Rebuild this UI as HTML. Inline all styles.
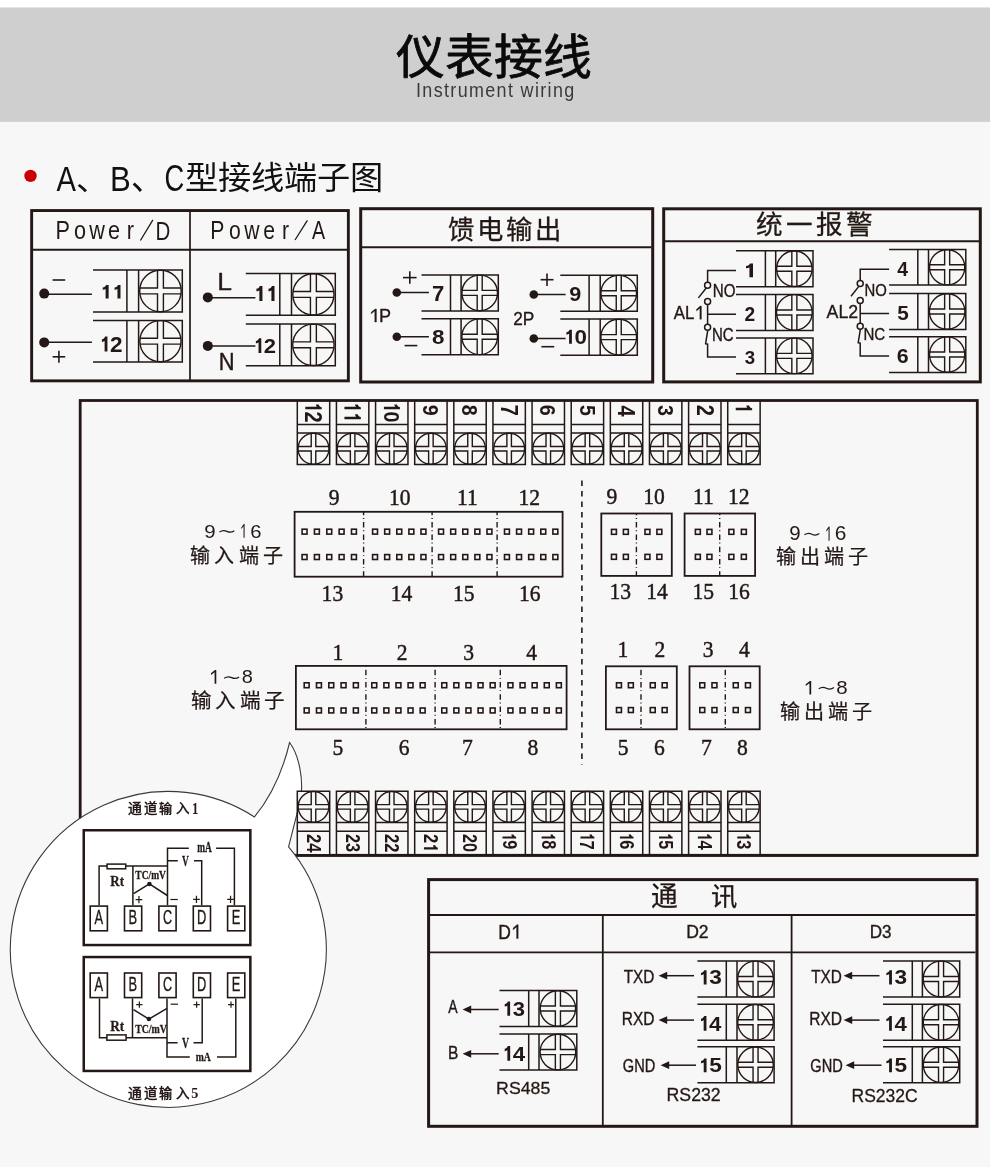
<!DOCTYPE html>
<html lang="zh-CN"><head><meta charset="utf-8"><title>仪表接线</title><style>html,body{margin:0;padding:0;background:#f7f7f7;}svg{display:block;will-change:transform;font-family:"Liberation Sans",sans-serif;}</style></head><body><svg width="990" height="1167" viewBox="0 0 990 1167">
<rect x="0" y="0" width="990" height="1167" fill="#f7f7f7"/>
<rect x="0" y="0" width="990" height="7.5" fill="#ffffff"/>
<rect x="0" y="7.5" width="990" height="114.4" fill="#d0cfd0"/>
<text transform="matrix(0.12219 0.00000 0.00000 0.11809 396.07 74.21)" font-family="&apos;Liberation Sans&apos;, sans-serif" font-size="400" stroke="#0a0a0a" stroke-width="6.66" stroke-linejoin="round" fill="#0a0a0a">仪表接线</text>
<text transform="matrix(0.04485 0.00000 0.00000 0.04984 416.00 96.84)" font-family="&apos;Liberation Sans&apos;, sans-serif" font-size="400" letter-spacing="30.25" fill="#3a3a3a">Instrument wiring</text>
<circle cx="30.5" cy="175.9" r="6.2" fill="#cc0000"/>
<text transform="matrix(0.07293 0.00000 0.00000 0.08747 56.40 190.70)" font-family="&apos;Liberation Sans&apos;, sans-serif" font-size="400" fill="#111111">A</text>
<text transform="matrix(0.08083 0.00000 0.00000 0.07311 76.45 190.37)" font-family="&apos;Liberation Sans&apos;, sans-serif" font-size="400" fill="#111111">、</text>
<text transform="matrix(0.07771 0.00000 0.00000 0.08782 109.97 190.70)" font-family="&apos;Liberation Sans&apos;, sans-serif" font-size="400" fill="#111111">B</text>
<text transform="matrix(0.08083 0.00000 0.00000 0.08487 130.94 189.78)" font-family="&apos;Liberation Sans&apos;, sans-serif" font-size="400" fill="#111111">、</text>
<text transform="matrix(0.06829 0.00000 0.00000 0.09009 164.52 190.74)" font-family="&apos;Liberation Sans&apos;, sans-serif" font-size="400" fill="#111111">C</text>
<text transform="matrix(0.08311 0.00000 0.00000 0.07819 184.90 189.33)" font-family="&apos;Liberation Sans&apos;, sans-serif" font-size="400" fill="#111111">型接线端子图</text>
<rect x="31.65" y="210.55" width="316.7" height="170.3" stroke="#231815" stroke-width="2.9" fill="none"/>
<line x1="31.5" y1="249.7" x2="348.5" y2="249.7" stroke="#231815" stroke-width="1.9"/>
<line x1="190" y1="211" x2="190" y2="381" stroke="#231815" stroke-width="1.7"/>
<g transform="matrix(0.05410 0.00000 0.00000 0.06365 0.00 239.10)" fill="#231815" font-family="&apos;Liberation Sans&apos;, sans-serif" font-size="400"><text x="1024.1">P</text><text x="1369.6">o</text><text x="1649.5">w</text><text x="1998.1">e</text><text x="2343.6">r</text></g>
<text transform="matrix(0.05128 0.00000 0.00000 0.06507 155.40 239.50)" font-family="&apos;Liberation Sans&apos;, sans-serif" font-size="400" fill="#231815">D</text>
<line x1="152.9" y1="219.8" x2="140.4" y2="240.5" stroke="#231815" stroke-width="1.3"/>
<g transform="matrix(0.05292 0.00000 0.00000 0.06226 0.00 238.91)" fill="#231815" font-family="&apos;Liberation Sans&apos;, sans-serif" font-size="400"><text x="3970.9">P</text><text x="4326.2">o</text><text x="4615.9">w</text><text x="4974.3">e</text><text x="5329.6">r</text></g>
<text transform="matrix(0.04912 0.00000 0.00000 0.06364 312.00 239.30)" font-family="&apos;Liberation Sans&apos;, sans-serif" font-size="400" fill="#231815">A</text>
<line x1="307.4" y1="220.3" x2="295" y2="240" stroke="#231815" stroke-width="1.3"/>
<path d="M93.75,270H182.3M93.75,311.9H182.3M126.9,270V311.9M138.6,270V311.9M182.3,270V311.9" stroke="#231815" stroke-width="1.5" fill="none" stroke-linecap="square"/>
<circle cx="160.45" cy="290.95" r="20.75" stroke="#231815" stroke-width="1.4" fill="none"/>
<path d="M157.5,270.41V288H139.91M139.91,293.9H157.5V311.49M163.4,311.49V293.9H180.99M180.99,288H163.4V270.41" stroke="#231815" stroke-width="1.4" fill="none" />
<path d="M93.75,320.4H182.3M93.75,362H182.3M126.9,320.4V362M138.6,320.4V362M182.3,320.4V362" stroke="#231815" stroke-width="1.5" fill="none" stroke-linecap="square"/>
<circle cx="160.45" cy="341.2" r="20.6" stroke="#231815" stroke-width="1.4" fill="none"/>
<path d="M157.5,320.81V338.25H140.06M140.06,344.15H157.5V361.59M163.4,361.59V344.15H180.84M180.84,338.25H163.4V320.81" stroke="#231815" stroke-width="1.4" fill="none" />
<circle cx="44.2" cy="293.6" r="5" fill="#231815"/>
<line x1="44.2" y1="294.2" x2="91.9" y2="294.2" stroke="#231815" stroke-width="1.5"/>
<circle cx="44.2" cy="342.4" r="5" fill="#231815"/>
<line x1="44.2" y1="342.3" x2="91.9" y2="342.3" stroke="#231815" stroke-width="1.5"/>
<line x1="52.6" y1="280" x2="65.2" y2="280" stroke="#231815" stroke-width="1.6"/>
<line x1="52.6" y1="356.8" x2="65.2" y2="356.8" stroke="#231815" stroke-width="1.6"/>
<line x1="58.9" y1="350.8" x2="58.9" y2="362.8" stroke="#231815" stroke-width="1.6"/>
<g transform="matrix(0.06054 0.00000 0.00000 0.04871 99.55 298.60)" fill="#231815" font-family="&apos;Liberation Sans&apos;, sans-serif" font-size="400" font-weight="bold"><path transform="translate(0.0 0)" d="M150,0V-281.25H108C100,-252 80,-234 52,-228V-182C74,-184 88,-190 100,-199V0Z"/><path transform="translate(196.0 0)" d="M150,0V-281.25H108C100,-252 80,-234 52,-228V-182C74,-184 88,-190 100,-199V0Z"/></g>
<g transform="matrix(0.05638 0.00000 0.00000 0.05333 98.97 351.60)" fill="#231815" font-family="&apos;Liberation Sans&apos;, sans-serif" font-size="400" font-weight="bold"><path transform="translate(0.0 0)" d="M150,0V-281.25H108C100,-252 80,-234 52,-228V-182C74,-184 88,-190 100,-199V0Z"/><text x="196.0">2</text></g>
<path d="M246.55,273.6H335.3M246.55,315.2H335.3M279.8,273.6V315.2M291.5,273.6V315.2M335.3,273.6V315.2" stroke="#231815" stroke-width="1.5" fill="none" stroke-linecap="square"/>
<circle cx="313.4" cy="294.4" r="20.6" stroke="#231815" stroke-width="1.4" fill="none"/>
<path d="M310.44,274.01V291.44H293.01M293.01,297.36H310.44V314.79M316.36,314.79V297.36H333.79M333.79,291.44H316.36V274.01" stroke="#231815" stroke-width="1.4" fill="none" />
<path d="M246.55,323.9H335.3M246.55,365.7H335.3M279.8,323.9V365.7M291.5,323.9V365.7M335.3,323.9V365.7" stroke="#231815" stroke-width="1.5" fill="none" stroke-linecap="square"/>
<circle cx="313.4" cy="344.8" r="20.7" stroke="#231815" stroke-width="1.4" fill="none"/>
<path d="M310.44,324.31V341.84H292.91M292.91,347.76H310.44V365.29M316.36,365.29V347.76H333.89M333.89,341.84H316.36V324.31" stroke="#231815" stroke-width="1.4" fill="none" />
<circle cx="207.8" cy="297.4" r="5" fill="#231815"/>
<line x1="207.8" y1="297.7" x2="255.4" y2="297.7" stroke="#231815" stroke-width="1.5"/>
<circle cx="207.8" cy="345.9" r="5" fill="#231815"/>
<line x1="207.8" y1="345.9" x2="255.4" y2="345.9" stroke="#231815" stroke-width="1.5"/>
<text transform="matrix(0.06621 0.00000 0.00000 0.06116 217.13 290.00)" font-family="&apos;Liberation Sans&apos;, sans-serif" font-size="400" stroke="#231815" stroke-width="6.28" stroke-linejoin="round" fill="#231815">L</text>
<text transform="matrix(0.05467 0.00000 0.00000 0.06009 218.79 369.70)" font-family="&apos;Liberation Sans&apos;, sans-serif" font-size="400" stroke="#231815" stroke-width="6.97" stroke-linejoin="round" fill="#231815">N</text>
<g transform="matrix(0.06156 0.00000 0.00000 0.05333 253.20 301.00)" fill="#231815" font-family="&apos;Liberation Sans&apos;, sans-serif" font-size="400" font-weight="bold"><path transform="translate(0.0 0)" d="M150,0V-281.25H108C100,-252 80,-234 52,-228V-182C74,-184 88,-190 100,-199V0Z"/><path transform="translate(196.0 0)" d="M150,0V-281.25H108C100,-252 80,-234 52,-228V-182C74,-184 88,-190 100,-199V0Z"/></g>
<g transform="matrix(0.05498 0.00000 0.00000 0.05262 253.04 353.00)" fill="#231815" font-family="&apos;Liberation Sans&apos;, sans-serif" font-size="400" font-weight="bold"><path transform="translate(0.0 0)" d="M150,0V-281.25H108C100,-252 80,-234 52,-228V-182C74,-184 88,-190 100,-199V0Z"/><text x="196.0">2</text></g>
<rect x="360.7" y="208.7" width="292" height="173.3" stroke="#231815" stroke-width="3" fill="none"/>
<line x1="362" y1="247.3" x2="651.5" y2="247.3" stroke="#231815" stroke-width="1.9"/>
<text transform="matrix(0.06596 0.00000 0.00000 0.06596 447.90 238.59)" font-family="&apos;Liberation Sans&apos;, sans-serif" font-size="400" letter-spacing="46.01" stroke="#231815" stroke-width="4.55" stroke-linejoin="round" fill="#231815">馈电输出</text>
<path d="M422.25,274.9H498.3M422.25,310.9H498.3M450.5,274.9V310.9M461.1,274.9V310.9M498.3,274.9V310.9" stroke="#231815" stroke-width="1.5" fill="none" stroke-linecap="square"/>
<circle cx="479.7" cy="292.9" r="17.8" stroke="#231815" stroke-width="1.4" fill="none"/>
<path d="M477.19,275.28V290.39H462.08M462.08,295.41H477.19V310.52M482.21,310.52V295.41H497.32M497.32,290.39H482.21V275.28" stroke="#231815" stroke-width="1.4" fill="none" />
<path d="M422.25,318.7H498.3M422.25,354.8H498.3M450.5,318.7V354.8M461.1,318.7V354.8M498.3,318.7V354.8" stroke="#231815" stroke-width="1.5" fill="none" stroke-linecap="square"/>
<circle cx="479.7" cy="336.75" r="17.85" stroke="#231815" stroke-width="1.4" fill="none"/>
<path d="M477.19,319.08V334.24H462.03M462.03,339.26H477.19V354.42M482.21,354.42V339.26H497.37M497.37,334.24H482.21V319.08" stroke="#231815" stroke-width="1.4" fill="none" />
<circle cx="396.8" cy="292.5" r="4.3" fill="#231815"/>
<line x1="396.8" y1="292.5" x2="428.9" y2="292.5" stroke="#231815" stroke-width="1.5"/>
<circle cx="396.8" cy="336.8" r="4.3" fill="#231815"/>
<line x1="396.8" y1="336.8" x2="428.9" y2="336.8" stroke="#231815" stroke-width="1.5"/>
<line x1="403" y1="277.6" x2="416.6" y2="277.6" stroke="#231815" stroke-width="1.6"/>
<line x1="409.8" y1="271.3" x2="409.8" y2="283.8" stroke="#231815" stroke-width="1.6"/>
<line x1="404.6" y1="345.6" x2="417.3" y2="345.6" stroke="#231815" stroke-width="1.6"/>
<text transform="matrix(0.05523 0.00000 0.00000 0.05333 432.11 301.00)" font-family="&apos;Liberation Sans&apos;, sans-serif" font-size="400" font-weight="bold" fill="#231815">7</text>
<text transform="matrix(0.05600 0.00000 0.00000 0.05183 432.10 343.88)" font-family="&apos;Liberation Sans&apos;, sans-serif" font-size="400" font-weight="bold" fill="#231815">8</text>
<g transform="matrix(0.04519 0.00000 0.00000 0.04622 368.85 322.00)" fill="#231815" font-family="&apos;Liberation Sans&apos;, sans-serif" font-size="400" stroke="#231815" stroke-width="7.66" stroke-linejoin="round"><path transform="translate(0.0 0)" d="M168,0V-281.25H139L52,-212V-178L131,-236V0Z"/><text x="222.5">P</text></g>
<path d="M561.05,275.2H637.3M561.05,311.2H637.3M589.1,275.2V311.2M600.2,275.2V311.2M637.3,275.2V311.2" stroke="#231815" stroke-width="1.5" fill="none" stroke-linecap="square"/>
<circle cx="618.75" cy="293.2" r="17.8" stroke="#231815" stroke-width="1.4" fill="none"/>
<path d="M616.25,275.58V290.7H601.13M601.13,295.7H616.25V310.82M621.25,310.82V295.7H636.37M636.37,290.7H621.25V275.58" stroke="#231815" stroke-width="1.4" fill="none" />
<path d="M561.05,319.1H637.3M561.05,355.2H637.3M589.1,319.1V355.2M600.2,319.1V355.2M637.3,319.1V355.2" stroke="#231815" stroke-width="1.5" fill="none" stroke-linecap="square"/>
<circle cx="618.75" cy="337.15" r="17.85" stroke="#231815" stroke-width="1.4" fill="none"/>
<path d="M616.25,319.48V334.65H601.08M601.08,339.65H616.25V354.82M621.25,354.82V339.65H636.42M636.42,334.65H621.25V319.48" stroke="#231815" stroke-width="1.4" fill="none" />
<circle cx="533.8" cy="294.5" r="4.3" fill="#231815"/>
<line x1="533.8" y1="294.5" x2="565.6" y2="294.5" stroke="#231815" stroke-width="1.5"/>
<circle cx="533.8" cy="338.5" r="4.3" fill="#231815"/>
<line x1="533.8" y1="338.5" x2="565.6" y2="338.5" stroke="#231815" stroke-width="1.5"/>
<line x1="540.6" y1="279.7" x2="553.5" y2="279.7" stroke="#231815" stroke-width="1.6"/>
<line x1="547" y1="273.5" x2="547" y2="286" stroke="#231815" stroke-width="1.6"/>
<line x1="541.4" y1="346.7" x2="554.2" y2="346.7" stroke="#231815" stroke-width="1.6"/>
<text transform="matrix(0.05400 0.00000 0.00000 0.04835 569.33 300.90)" font-family="&apos;Liberation Sans&apos;, sans-serif" font-size="400" font-weight="bold" fill="#231815">9</text>
<g transform="matrix(0.05596 0.00000 0.00000 0.05009 563.49 343.79)" fill="#231815" font-family="&apos;Liberation Sans&apos;, sans-serif" font-size="400" font-weight="bold"><path transform="translate(0.0 0)" d="M150,0V-281.25H108C100,-252 80,-234 52,-228V-182C74,-184 88,-190 100,-199V0Z"/><text x="196.0">0</text></g>
<text transform="matrix(0.04320 0.00000 0.00000 0.04587 513.19 324.60)" font-family="&apos;Liberation Sans&apos;, sans-serif" font-size="400" stroke="#231815" stroke-width="7.86" stroke-linejoin="round" fill="#231815">2P</text>
<rect x="663.7" y="208.8" width="316.6" height="173.1" stroke="#231815" stroke-width="3" fill="none"/>
<line x1="665" y1="241.3" x2="979" y2="241.3" stroke="#231815" stroke-width="1.9"/>
<text transform="matrix(0.06649 0.00000 0.00000 0.06649 755.80 234.07)" font-family="&apos;Liberation Sans&apos;, sans-serif" font-size="400" letter-spacing="45.16" stroke="#231815" stroke-width="4.51" stroke-linejoin="round" fill="#231815">统一报警</text>
<path d="M736.75,250.8H813M736.75,286.7H813M765.4,250.8V286.7M775.7,250.8V286.7M813,250.8V286.7" stroke="#231815" stroke-width="1.5" fill="none" stroke-linecap="square"/>
<circle cx="794.35" cy="268.75" r="17.75" stroke="#231815" stroke-width="1.4" fill="none"/>
<path d="M791.83,251.18V266.23H776.78M776.78,271.27H791.83V286.32M796.87,286.32V271.27H811.92M811.92,266.23H796.87V251.18" stroke="#231815" stroke-width="1.4" fill="none" />
<path d="M736.75,294.4H813M736.75,330.5H813M765.4,294.4V330.5M775.7,294.4V330.5M813,294.4V330.5" stroke="#231815" stroke-width="1.5" fill="none" stroke-linecap="square"/>
<circle cx="794.35" cy="312.45" r="17.85" stroke="#231815" stroke-width="1.4" fill="none"/>
<path d="M791.83,294.78V309.93H776.68M776.68,314.97H791.83V330.12M796.87,330.12V314.97H812.02M812.02,309.93H796.87V294.78" stroke="#231815" stroke-width="1.4" fill="none" />
<path d="M736.75,337.9H813M736.75,373.8H813M765.4,337.9V373.8M775.7,337.9V373.8M813,337.9V373.8" stroke="#231815" stroke-width="1.5" fill="none" stroke-linecap="square"/>
<circle cx="794.35" cy="355.85" r="17.75" stroke="#231815" stroke-width="1.4" fill="none"/>
<path d="M791.83,338.28V353.33H776.78M776.78,358.37H791.83V373.42M796.87,373.42V358.37H811.92M811.92,353.33H796.87V338.28" stroke="#231815" stroke-width="1.4" fill="none" />
<path d="M736,270.6H707.6V282.2" stroke="#231815" stroke-width="1.5" fill="none" />
<circle cx="707.6" cy="285.2" r="3" stroke="#231815" stroke-width="1.5" fill="none"/>
<line x1="698.4" y1="297.9" x2="706.4" y2="287.7" stroke="#231815" stroke-width="1.5"/>
<circle cx="707.6" cy="301.4" r="3" stroke="#231815" stroke-width="1.5" fill="none"/>
<path d="M707.6,304.4V324.2M707.6,314.2H736" stroke="#231815" stroke-width="1.5" fill="none" />
<circle cx="707.6" cy="327.2" r="3" stroke="#231815" stroke-width="1.5" fill="none"/>
<path d="M707.8,330.2L705.6,343.7L707.6,344.2V357.1H736" stroke="#231815" stroke-width="1.5" fill="none" />
<g transform="matrix(0.04205 0.00000 0.00000 0.04672 673.78 319.22)" fill="#231815" font-family="&apos;Liberation Sans&apos;, sans-serif" font-size="400" stroke="#231815" stroke-width="7.89" stroke-linejoin="round"><text x="0.0">A</text><text x="266.8">L</text><path transform="translate(489.3 0)" d="M168,0V-281.25H139L52,-212V-178L131,-236V0Z"/></g>
<text transform="matrix(0.03780 0.00000 0.00000 0.04466 712.80 296.74)" font-family="&apos;Liberation Sans&apos;, sans-serif" font-size="400" stroke="#231815" stroke-width="8.49" stroke-linejoin="round" fill="#231815">NO</text>
<text transform="matrix(0.03763 0.00000 0.00000 0.04501 711.90 340.74)" font-family="&apos;Liberation Sans&apos;, sans-serif" font-size="400" stroke="#231815" stroke-width="8.47" stroke-linejoin="round" fill="#231815">NC</text>
<g transform="matrix(0.07143 0.00000 0.00000 0.04907 742.29 277.30)" fill="#231815" font-family="&apos;Liberation Sans&apos;, sans-serif" font-size="400" font-weight="bold"><path transform="translate(0.0 0)" d="M150,0V-281.25H108C100,-252 80,-234 52,-228V-182C74,-184 88,-190 100,-199V0Z"/></g>
<text transform="matrix(0.04800 0.00000 0.00000 0.04871 744.40 321.00)" font-family="&apos;Liberation Sans&apos;, sans-serif" font-size="400" font-weight="bold" fill="#231815">2</text>
<text transform="matrix(0.04655 0.00000 0.00000 0.04696 744.71 364.21)" font-family="&apos;Liberation Sans&apos;, sans-serif" font-size="400" font-weight="bold" fill="#231815">3</text>
<path d="M889.85,249.5H965.8M889.85,285.1H965.8M917.8,249.5V285.1M928.5,249.5V285.1M965.8,249.5V285.1" stroke="#231815" stroke-width="1.5" fill="none" stroke-linecap="square"/>
<circle cx="947.15" cy="267.3" r="17.6" stroke="#231815" stroke-width="1.4" fill="none"/>
<path d="M944.63,249.88V264.78H929.73M929.73,269.82H944.63V284.72M949.67,284.72V269.82H964.57M964.57,264.78H949.67V249.88" stroke="#231815" stroke-width="1.4" fill="none" />
<path d="M889.85,293.6H965.8M889.85,329.5H965.8M917.8,293.6V329.5M928.5,293.6V329.5M965.8,293.6V329.5" stroke="#231815" stroke-width="1.5" fill="none" stroke-linecap="square"/>
<circle cx="947.15" cy="311.55" r="17.75" stroke="#231815" stroke-width="1.4" fill="none"/>
<path d="M944.63,293.98V309.03H929.58M929.58,314.07H944.63V329.12M949.67,329.12V314.07H964.72M964.72,309.03H949.67V293.98" stroke="#231815" stroke-width="1.4" fill="none" />
<path d="M889.85,336.7H965.8M889.85,372.4H965.8M917.8,336.7V372.4M928.5,336.7V372.4M965.8,336.7V372.4" stroke="#231815" stroke-width="1.5" fill="none" stroke-linecap="square"/>
<circle cx="947.15" cy="354.55" r="17.65" stroke="#231815" stroke-width="1.4" fill="none"/>
<path d="M944.63,337.08V352.03H929.68M929.68,357.07H944.63V372.02M949.67,372.02V357.07H964.62M964.62,352.03H949.67V337.08" stroke="#231815" stroke-width="1.4" fill="none" />
<path d="M889.1,269.3H860.2V280.6" stroke="#231815" stroke-width="1.5" fill="none" />
<circle cx="860.2" cy="283.6" r="3" stroke="#231815" stroke-width="1.5" fill="none"/>
<line x1="851" y1="296.3" x2="859" y2="286.1" stroke="#231815" stroke-width="1.5"/>
<circle cx="860.2" cy="300.6" r="3" stroke="#231815" stroke-width="1.5" fill="none"/>
<path d="M860.2,303.6V323.2M860.2,313.4H889.1" stroke="#231815" stroke-width="1.5" fill="none" />
<circle cx="860.2" cy="326.2" r="3" stroke="#231815" stroke-width="1.5" fill="none"/>
<path d="M860.4,329.2L858.2,342.7L860.2,343.2V355.9H889.1" stroke="#231815" stroke-width="1.5" fill="none" />
<text transform="matrix(0.04434 0.00000 0.00000 0.04672 826.58 318.32)" font-family="&apos;Liberation Sans&apos;, sans-serif" font-size="400" stroke="#231815" stroke-width="7.69" stroke-linejoin="round" fill="#231815">AL2</text>
<text transform="matrix(0.03725 0.00000 0.00000 0.04049 864.52 295.57)" font-family="&apos;Liberation Sans&apos;, sans-serif" font-size="400" stroke="#231815" stroke-width="9.00" stroke-linejoin="round" fill="#231815">NO</text>
<text transform="matrix(0.03763 0.00000 0.00000 0.03979 863.50 339.57)" font-family="&apos;Liberation Sans&apos;, sans-serif" font-size="400" stroke="#231815" stroke-width="9.04" stroke-linejoin="round" fill="#231815">NC</text>
<text transform="matrix(0.04844 0.00000 0.00000 0.05049 897.30 276.00)" font-family="&apos;Liberation Sans&apos;, sans-serif" font-size="400" font-weight="bold" fill="#231815">4</text>
<text transform="matrix(0.05188 0.00000 0.00000 0.05217 897.18 319.67)" font-family="&apos;Liberation Sans&apos;, sans-serif" font-size="400" font-weight="bold" fill="#231815">5</text>
<text transform="matrix(0.05350 0.00000 0.00000 0.05078 896.83 363.28)" font-family="&apos;Liberation Sans&apos;, sans-serif" font-size="400" font-weight="bold" fill="#231815">6</text>
<rect x="80.2" y="400.5" width="897.1" height="454.8" stroke="#231815" stroke-width="2.8" fill="none"/>
<path d="M297.3,401V464.4M329.7,401V464.4M297.3,424.4H329.7M297.3,433.1H329.7M297.3,464.4H329.7" stroke="#231815" stroke-width="1.5" fill="none" stroke-linecap="square"/>
<circle cx="313.5" cy="448.75" r="15.45" stroke="#231815" stroke-width="1.4" fill="none"/>
<path d="M311.23,433.47V446.48H298.22M298.22,451.02H311.23V464.03M315.77,464.03V451.02H328.78M328.78,446.48H315.77V433.47" stroke="#231815" stroke-width="1.4" fill="none" />
<g transform="matrix(0.00000 0.05015 -0.05831 0.00000 305.30 401.79)" fill="#231815" font-family="&apos;Liberation Sans&apos;, sans-serif" font-size="400" font-weight="bold"><path transform="translate(0.0 0)" d="M150,0V-281.25H108C100,-252 80,-234 52,-228V-182C74,-184 88,-190 100,-199V0Z"/><text x="196.0">2</text></g>
<path d="M336.43,401V464.4M368.83,401V464.4M336.43,424.4H368.83M336.43,433.1H368.83M336.43,464.4H368.83" stroke="#231815" stroke-width="1.5" fill="none" stroke-linecap="square"/>
<circle cx="352.63" cy="448.75" r="15.45" stroke="#231815" stroke-width="1.4" fill="none"/>
<path d="M350.36,433.47V446.48H337.35M337.35,451.02H350.36V464.03M354.9,464.03V451.02H367.91M367.91,446.48H354.9V433.47" stroke="#231815" stroke-width="1.4" fill="none" />
<g transform="matrix(0.00000 0.05015 -0.05831 0.00000 344.43 401.79)" fill="#231815" font-family="&apos;Liberation Sans&apos;, sans-serif" font-size="400" font-weight="bold"><path transform="translate(0.0 0)" d="M150,0V-281.25H108C100,-252 80,-234 52,-228V-182C74,-184 88,-190 100,-199V0Z"/><path transform="translate(196.0 0)" d="M150,0V-281.25H108C100,-252 80,-234 52,-228V-182C74,-184 88,-190 100,-199V0Z"/></g>
<path d="M375.56,401V464.4M407.96,401V464.4M375.56,424.4H407.96M375.56,433.1H407.96M375.56,464.4H407.96" stroke="#231815" stroke-width="1.5" fill="none" stroke-linecap="square"/>
<circle cx="391.76" cy="448.75" r="15.45" stroke="#231815" stroke-width="1.4" fill="none"/>
<path d="M389.49,433.47V446.48H376.48M376.48,451.02H389.49V464.03M394.03,464.03V451.02H407.04M407.04,446.48H394.03V433.47" stroke="#231815" stroke-width="1.4" fill="none" />
<g transform="matrix(0.00000 0.04906 -0.05704 0.00000 383.92 401.85)" fill="#231815" font-family="&apos;Liberation Sans&apos;, sans-serif" font-size="400" font-weight="bold"><path transform="translate(0.0 0)" d="M150,0V-281.25H108C100,-252 80,-234 52,-228V-182C74,-184 88,-190 100,-199V0Z"/><text x="196.0">0</text></g>
<path d="M414.69,401V464.4M447.09,401V464.4M414.69,424.4H447.09M414.69,433.1H447.09M414.69,464.4H447.09" stroke="#231815" stroke-width="1.5" fill="none" stroke-linecap="square"/>
<circle cx="430.89" cy="448.75" r="15.45" stroke="#231815" stroke-width="1.4" fill="none"/>
<path d="M428.62,433.47V446.48H415.61M415.61,451.02H428.62V464.03M433.16,464.03V451.02H446.17M446.17,446.48H433.16V433.47" stroke="#231815" stroke-width="1.4" fill="none" />
<text transform="matrix(0.00000 0.04906 -0.05704 0.00000 423.05 404.79)" font-family="&apos;Liberation Sans&apos;, sans-serif" font-size="400" font-weight="bold" fill="#231815">9</text>
<path d="M453.82,401V464.4M486.22,401V464.4M453.82,424.4H486.22M453.82,433.1H486.22M453.82,464.4H486.22" stroke="#231815" stroke-width="1.5" fill="none" stroke-linecap="square"/>
<circle cx="470.02" cy="448.75" r="15.45" stroke="#231815" stroke-width="1.4" fill="none"/>
<path d="M467.75,433.47V446.48H454.74M454.74,451.02H467.75V464.03M472.29,464.03V451.02H485.3M485.3,446.48H472.29V433.47" stroke="#231815" stroke-width="1.4" fill="none" />
<text transform="matrix(0.00000 0.04906 -0.05704 0.00000 462.18 404.79)" font-family="&apos;Liberation Sans&apos;, sans-serif" font-size="400" font-weight="bold" fill="#231815">8</text>
<path d="M492.95,401V464.4M525.35,401V464.4M492.95,424.4H525.35M492.95,433.1H525.35M492.95,464.4H525.35" stroke="#231815" stroke-width="1.5" fill="none" stroke-linecap="square"/>
<circle cx="509.15" cy="448.75" r="15.45" stroke="#231815" stroke-width="1.4" fill="none"/>
<path d="M506.88,433.47V446.48H493.87M493.87,451.02H506.88V464.03M511.42,464.03V451.02H524.43M524.43,446.48H511.42V433.47" stroke="#231815" stroke-width="1.4" fill="none" />
<text transform="matrix(0.00000 0.05015 -0.05831 0.00000 500.95 404.77)" font-family="&apos;Liberation Sans&apos;, sans-serif" font-size="400" font-weight="bold" fill="#231815">7</text>
<path d="M532.08,401V464.4M564.48,401V464.4M532.08,424.4H564.48M532.08,433.1H564.48M532.08,464.4H564.48" stroke="#231815" stroke-width="1.5" fill="none" stroke-linecap="square"/>
<circle cx="548.28" cy="448.75" r="15.45" stroke="#231815" stroke-width="1.4" fill="none"/>
<path d="M546.01,433.47V446.48H533M533,451.02H546.01V464.03M550.55,464.03V451.02H563.56M563.56,446.48H550.55V433.47" stroke="#231815" stroke-width="1.4" fill="none" />
<text transform="matrix(0.00000 0.04906 -0.05704 0.00000 540.44 404.79)" font-family="&apos;Liberation Sans&apos;, sans-serif" font-size="400" font-weight="bold" fill="#231815">6</text>
<path d="M571.21,401V464.4M603.61,401V464.4M571.21,424.4H603.61M571.21,433.1H603.61M571.21,464.4H603.61" stroke="#231815" stroke-width="1.5" fill="none" stroke-linecap="square"/>
<circle cx="587.41" cy="448.75" r="15.45" stroke="#231815" stroke-width="1.4" fill="none"/>
<path d="M585.14,433.47V446.48H572.13M572.13,451.02H585.14V464.03M589.68,464.03V451.02H602.69M602.69,446.48H589.68V433.47" stroke="#231815" stroke-width="1.4" fill="none" />
<text transform="matrix(0.00000 0.04906 -0.05704 0.00000 579.57 405.09)" font-family="&apos;Liberation Sans&apos;, sans-serif" font-size="400" font-weight="bold" fill="#231815">5</text>
<path d="M610.34,401V464.4M642.74,401V464.4M610.34,424.4H642.74M610.34,433.1H642.74M610.34,464.4H642.74" stroke="#231815" stroke-width="1.5" fill="none" stroke-linecap="square"/>
<circle cx="626.54" cy="448.75" r="15.45" stroke="#231815" stroke-width="1.4" fill="none"/>
<path d="M624.27,433.47V446.48H611.26M611.26,451.02H624.27V464.03M628.81,464.03V451.02H641.82M641.82,446.48H628.81V433.47" stroke="#231815" stroke-width="1.4" fill="none" />
<text transform="matrix(0.00000 0.05015 -0.05831 0.00000 618.34 405.40)" font-family="&apos;Liberation Sans&apos;, sans-serif" font-size="400" font-weight="bold" fill="#231815">4</text>
<path d="M649.47,401V464.4M681.87,401V464.4M649.47,424.4H681.87M649.47,433.1H681.87M649.47,464.4H681.87" stroke="#231815" stroke-width="1.5" fill="none" stroke-linecap="square"/>
<circle cx="665.67" cy="448.75" r="15.45" stroke="#231815" stroke-width="1.4" fill="none"/>
<path d="M663.4,433.47V446.48H650.39M650.39,451.02H663.4V464.03M667.94,464.03V451.02H680.95M680.95,446.48H667.94V433.47" stroke="#231815" stroke-width="1.4" fill="none" />
<text transform="matrix(0.00000 0.04906 -0.05704 0.00000 657.83 405.09)" font-family="&apos;Liberation Sans&apos;, sans-serif" font-size="400" font-weight="bold" fill="#231815">3</text>
<path d="M688.6,401V464.4M721,401V464.4M688.6,424.4H721M688.6,433.1H721M688.6,464.4H721" stroke="#231815" stroke-width="1.5" fill="none" stroke-linecap="square"/>
<circle cx="704.8" cy="448.75" r="15.45" stroke="#231815" stroke-width="1.4" fill="none"/>
<path d="M702.53,433.47V446.48H689.52M689.52,451.02H702.53V464.03M707.07,464.03V451.02H720.08M720.08,446.48H707.07V433.47" stroke="#231815" stroke-width="1.4" fill="none" />
<text transform="matrix(0.00000 0.05015 -0.05831 0.00000 696.60 404.77)" font-family="&apos;Liberation Sans&apos;, sans-serif" font-size="400" font-weight="bold" fill="#231815">2</text>
<path d="M727.73,401V464.4M760.13,401V464.4M727.73,424.4H760.13M727.73,433.1H760.13M727.73,464.4H760.13" stroke="#231815" stroke-width="1.5" fill="none" stroke-linecap="square"/>
<circle cx="743.93" cy="448.75" r="15.45" stroke="#231815" stroke-width="1.4" fill="none"/>
<path d="M741.66,433.47V446.48H728.65M728.65,451.02H741.66V464.03M746.2,464.03V451.02H759.21M759.21,446.48H746.2V433.47" stroke="#231815" stroke-width="1.4" fill="none" />
<g transform="matrix(0.00000 0.05015 -0.05831 0.00000 735.73 402.79)" fill="#231815" font-family="&apos;Liberation Sans&apos;, sans-serif" font-size="400" font-weight="bold"><path transform="translate(0.0 0)" d="M150,0V-281.25H108C100,-252 80,-234 52,-228V-182C74,-184 88,-190 100,-199V0Z"/></g>
<rect x="294.6" y="511.8" width="268" height="64.9" stroke="#231815" stroke-width="1.8" fill="none"/>
<line x1="363.6" y1="512" x2="363.6" y2="576.5" stroke="#231815" stroke-width="1.4" stroke-dasharray="5.5 2.7 0.9 3.2" stroke-dashoffset="2.2"/>
<line x1="432.1" y1="512" x2="432.1" y2="576.5" stroke="#231815" stroke-width="1.4" stroke-dasharray="5.5 2.7 0.9 3.2" stroke-dashoffset="2.2"/>
<line x1="497.1" y1="512" x2="497.1" y2="576.5" stroke="#231815" stroke-width="1.4" stroke-dasharray="5.5 2.7 0.9 3.2" stroke-dashoffset="2.2"/>
<rect x="302.1" y="529.2" width="4.9" height="4.9" stroke="#231815" stroke-width="1.6" fill="none"/>
<rect x="302.1" y="554.6" width="4.9" height="4.9" stroke="#231815" stroke-width="1.6" fill="none"/>
<rect x="314.45" y="529.2" width="4.9" height="4.9" stroke="#231815" stroke-width="1.6" fill="none"/>
<rect x="314.45" y="554.6" width="4.9" height="4.9" stroke="#231815" stroke-width="1.6" fill="none"/>
<rect x="326.8" y="529.2" width="4.9" height="4.9" stroke="#231815" stroke-width="1.6" fill="none"/>
<rect x="326.8" y="554.6" width="4.9" height="4.9" stroke="#231815" stroke-width="1.6" fill="none"/>
<rect x="339.15" y="529.2" width="4.9" height="4.9" stroke="#231815" stroke-width="1.6" fill="none"/>
<rect x="339.15" y="554.6" width="4.9" height="4.9" stroke="#231815" stroke-width="1.6" fill="none"/>
<rect x="351.5" y="529.2" width="4.9" height="4.9" stroke="#231815" stroke-width="1.6" fill="none"/>
<rect x="351.5" y="554.6" width="4.9" height="4.9" stroke="#231815" stroke-width="1.6" fill="none"/>
<rect x="372.6" y="529.2" width="4.9" height="4.9" stroke="#231815" stroke-width="1.6" fill="none"/>
<rect x="372.6" y="554.6" width="4.9" height="4.9" stroke="#231815" stroke-width="1.6" fill="none"/>
<rect x="384.7" y="529.2" width="4.9" height="4.9" stroke="#231815" stroke-width="1.6" fill="none"/>
<rect x="384.7" y="554.6" width="4.9" height="4.9" stroke="#231815" stroke-width="1.6" fill="none"/>
<rect x="396.8" y="529.2" width="4.9" height="4.9" stroke="#231815" stroke-width="1.6" fill="none"/>
<rect x="396.8" y="554.6" width="4.9" height="4.9" stroke="#231815" stroke-width="1.6" fill="none"/>
<rect x="408.9" y="529.2" width="4.9" height="4.9" stroke="#231815" stroke-width="1.6" fill="none"/>
<rect x="408.9" y="554.6" width="4.9" height="4.9" stroke="#231815" stroke-width="1.6" fill="none"/>
<rect x="421" y="529.2" width="4.9" height="4.9" stroke="#231815" stroke-width="1.6" fill="none"/>
<rect x="421" y="554.6" width="4.9" height="4.9" stroke="#231815" stroke-width="1.6" fill="none"/>
<rect x="438.6" y="529.2" width="4.9" height="4.9" stroke="#231815" stroke-width="1.6" fill="none"/>
<rect x="438.6" y="554.6" width="4.9" height="4.9" stroke="#231815" stroke-width="1.6" fill="none"/>
<rect x="450.7" y="529.2" width="4.9" height="4.9" stroke="#231815" stroke-width="1.6" fill="none"/>
<rect x="450.7" y="554.6" width="4.9" height="4.9" stroke="#231815" stroke-width="1.6" fill="none"/>
<rect x="462.8" y="529.2" width="4.9" height="4.9" stroke="#231815" stroke-width="1.6" fill="none"/>
<rect x="462.8" y="554.6" width="4.9" height="4.9" stroke="#231815" stroke-width="1.6" fill="none"/>
<rect x="474.9" y="529.2" width="4.9" height="4.9" stroke="#231815" stroke-width="1.6" fill="none"/>
<rect x="474.9" y="554.6" width="4.9" height="4.9" stroke="#231815" stroke-width="1.6" fill="none"/>
<rect x="487" y="529.2" width="4.9" height="4.9" stroke="#231815" stroke-width="1.6" fill="none"/>
<rect x="487" y="554.6" width="4.9" height="4.9" stroke="#231815" stroke-width="1.6" fill="none"/>
<rect x="504.5" y="529.2" width="4.9" height="4.9" stroke="#231815" stroke-width="1.6" fill="none"/>
<rect x="504.5" y="554.6" width="4.9" height="4.9" stroke="#231815" stroke-width="1.6" fill="none"/>
<rect x="516.6" y="529.2" width="4.9" height="4.9" stroke="#231815" stroke-width="1.6" fill="none"/>
<rect x="516.6" y="554.6" width="4.9" height="4.9" stroke="#231815" stroke-width="1.6" fill="none"/>
<rect x="528.7" y="529.2" width="4.9" height="4.9" stroke="#231815" stroke-width="1.6" fill="none"/>
<rect x="528.7" y="554.6" width="4.9" height="4.9" stroke="#231815" stroke-width="1.6" fill="none"/>
<rect x="540.8" y="529.2" width="4.9" height="4.9" stroke="#231815" stroke-width="1.6" fill="none"/>
<rect x="540.8" y="554.6" width="4.9" height="4.9" stroke="#231815" stroke-width="1.6" fill="none"/>
<rect x="552.9" y="529.2" width="4.9" height="4.9" stroke="#231815" stroke-width="1.6" fill="none"/>
<rect x="552.9" y="554.6" width="4.9" height="4.9" stroke="#231815" stroke-width="1.6" fill="none"/>
<rect x="295.9" y="665.9" width="270.7" height="63.4" stroke="#231815" stroke-width="1.8" fill="none"/>
<line x1="365.9" y1="666" x2="365.9" y2="729" stroke="#231815" stroke-width="1.4" stroke-dasharray="5.5 2.7 0.9 3.2" stroke-dashoffset="8.6"/>
<line x1="435.1" y1="666" x2="435.1" y2="729" stroke="#231815" stroke-width="1.4" stroke-dasharray="5.5 2.7 0.9 3.2" stroke-dashoffset="8.6"/>
<line x1="500.3" y1="666" x2="500.3" y2="729" stroke="#231815" stroke-width="1.4" stroke-dasharray="5.5 2.7 0.9 3.2" stroke-dashoffset="8.6"/>
<rect x="304.2" y="682.8" width="4.9" height="4.9" stroke="#231815" stroke-width="1.6" fill="none"/>
<rect x="304.2" y="708" width="4.9" height="4.9" stroke="#231815" stroke-width="1.6" fill="none"/>
<rect x="316.5" y="682.8" width="4.9" height="4.9" stroke="#231815" stroke-width="1.6" fill="none"/>
<rect x="316.5" y="708" width="4.9" height="4.9" stroke="#231815" stroke-width="1.6" fill="none"/>
<rect x="328.8" y="682.8" width="4.9" height="4.9" stroke="#231815" stroke-width="1.6" fill="none"/>
<rect x="328.8" y="708" width="4.9" height="4.9" stroke="#231815" stroke-width="1.6" fill="none"/>
<rect x="341.1" y="682.8" width="4.9" height="4.9" stroke="#231815" stroke-width="1.6" fill="none"/>
<rect x="341.1" y="708" width="4.9" height="4.9" stroke="#231815" stroke-width="1.6" fill="none"/>
<rect x="353.4" y="682.8" width="4.9" height="4.9" stroke="#231815" stroke-width="1.6" fill="none"/>
<rect x="353.4" y="708" width="4.9" height="4.9" stroke="#231815" stroke-width="1.6" fill="none"/>
<rect x="371.8" y="682.8" width="4.9" height="4.9" stroke="#231815" stroke-width="1.6" fill="none"/>
<rect x="371.8" y="708" width="4.9" height="4.9" stroke="#231815" stroke-width="1.6" fill="none"/>
<rect x="383.9" y="682.8" width="4.9" height="4.9" stroke="#231815" stroke-width="1.6" fill="none"/>
<rect x="383.9" y="708" width="4.9" height="4.9" stroke="#231815" stroke-width="1.6" fill="none"/>
<rect x="396" y="682.8" width="4.9" height="4.9" stroke="#231815" stroke-width="1.6" fill="none"/>
<rect x="396" y="708" width="4.9" height="4.9" stroke="#231815" stroke-width="1.6" fill="none"/>
<rect x="408.1" y="682.8" width="4.9" height="4.9" stroke="#231815" stroke-width="1.6" fill="none"/>
<rect x="408.1" y="708" width="4.9" height="4.9" stroke="#231815" stroke-width="1.6" fill="none"/>
<rect x="420.2" y="682.8" width="4.9" height="4.9" stroke="#231815" stroke-width="1.6" fill="none"/>
<rect x="420.2" y="708" width="4.9" height="4.9" stroke="#231815" stroke-width="1.6" fill="none"/>
<rect x="441.8" y="682.8" width="4.9" height="4.9" stroke="#231815" stroke-width="1.6" fill="none"/>
<rect x="441.8" y="708" width="4.9" height="4.9" stroke="#231815" stroke-width="1.6" fill="none"/>
<rect x="453.9" y="682.8" width="4.9" height="4.9" stroke="#231815" stroke-width="1.6" fill="none"/>
<rect x="453.9" y="708" width="4.9" height="4.9" stroke="#231815" stroke-width="1.6" fill="none"/>
<rect x="466" y="682.8" width="4.9" height="4.9" stroke="#231815" stroke-width="1.6" fill="none"/>
<rect x="466" y="708" width="4.9" height="4.9" stroke="#231815" stroke-width="1.6" fill="none"/>
<rect x="478.1" y="682.8" width="4.9" height="4.9" stroke="#231815" stroke-width="1.6" fill="none"/>
<rect x="478.1" y="708" width="4.9" height="4.9" stroke="#231815" stroke-width="1.6" fill="none"/>
<rect x="490.2" y="682.8" width="4.9" height="4.9" stroke="#231815" stroke-width="1.6" fill="none"/>
<rect x="490.2" y="708" width="4.9" height="4.9" stroke="#231815" stroke-width="1.6" fill="none"/>
<rect x="508" y="682.8" width="4.9" height="4.9" stroke="#231815" stroke-width="1.6" fill="none"/>
<rect x="508" y="708" width="4.9" height="4.9" stroke="#231815" stroke-width="1.6" fill="none"/>
<rect x="520.1" y="682.8" width="4.9" height="4.9" stroke="#231815" stroke-width="1.6" fill="none"/>
<rect x="520.1" y="708" width="4.9" height="4.9" stroke="#231815" stroke-width="1.6" fill="none"/>
<rect x="532.2" y="682.8" width="4.9" height="4.9" stroke="#231815" stroke-width="1.6" fill="none"/>
<rect x="532.2" y="708" width="4.9" height="4.9" stroke="#231815" stroke-width="1.6" fill="none"/>
<rect x="544.3" y="682.8" width="4.9" height="4.9" stroke="#231815" stroke-width="1.6" fill="none"/>
<rect x="544.3" y="708" width="4.9" height="4.9" stroke="#231815" stroke-width="1.6" fill="none"/>
<rect x="556.4" y="682.8" width="4.9" height="4.9" stroke="#231815" stroke-width="1.6" fill="none"/>
<rect x="556.4" y="708" width="4.9" height="4.9" stroke="#231815" stroke-width="1.6" fill="none"/>
<rect x="601.3" y="513.5" width="70.5" height="62.4" stroke="#231815" stroke-width="1.8" fill="none"/>
<line x1="636.4" y1="513.5" x2="636.4" y2="576" stroke="#231815" stroke-width="1.4" stroke-dasharray="5.5 2.7 0.9 3.2" stroke-dashoffset="3.7"/>
<rect x="684.6" y="513.5" width="70.5" height="62.4" stroke="#231815" stroke-width="1.8" fill="none"/>
<line x1="719.7" y1="513.5" x2="719.7" y2="576" stroke="#231815" stroke-width="1.4" stroke-dasharray="5.5 2.7 0.9 3.2" stroke-dashoffset="3.7"/>
<rect x="611.5" y="529.4" width="4.9" height="4.9" stroke="#231815" stroke-width="1.6" fill="none"/>
<rect x="611.5" y="554.4" width="4.9" height="4.9" stroke="#231815" stroke-width="1.6" fill="none"/>
<rect x="623.4" y="529.4" width="4.9" height="4.9" stroke="#231815" stroke-width="1.6" fill="none"/>
<rect x="623.4" y="554.4" width="4.9" height="4.9" stroke="#231815" stroke-width="1.6" fill="none"/>
<rect x="645" y="529.4" width="4.9" height="4.9" stroke="#231815" stroke-width="1.6" fill="none"/>
<rect x="645" y="554.4" width="4.9" height="4.9" stroke="#231815" stroke-width="1.6" fill="none"/>
<rect x="656.9" y="529.4" width="4.9" height="4.9" stroke="#231815" stroke-width="1.6" fill="none"/>
<rect x="656.9" y="554.4" width="4.9" height="4.9" stroke="#231815" stroke-width="1.6" fill="none"/>
<rect x="695.4" y="529.4" width="4.9" height="4.9" stroke="#231815" stroke-width="1.6" fill="none"/>
<rect x="695.4" y="554.4" width="4.9" height="4.9" stroke="#231815" stroke-width="1.6" fill="none"/>
<rect x="707" y="529.4" width="4.9" height="4.9" stroke="#231815" stroke-width="1.6" fill="none"/>
<rect x="707" y="554.4" width="4.9" height="4.9" stroke="#231815" stroke-width="1.6" fill="none"/>
<rect x="728.9" y="529.4" width="4.9" height="4.9" stroke="#231815" stroke-width="1.6" fill="none"/>
<rect x="728.9" y="554.4" width="4.9" height="4.9" stroke="#231815" stroke-width="1.6" fill="none"/>
<rect x="741.4" y="529.4" width="4.9" height="4.9" stroke="#231815" stroke-width="1.6" fill="none"/>
<rect x="741.4" y="554.4" width="4.9" height="4.9" stroke="#231815" stroke-width="1.6" fill="none"/>
<rect x="605.9" y="666.3" width="70.9" height="63" stroke="#231815" stroke-width="1.8" fill="none"/>
<line x1="641" y1="666.5" x2="641" y2="729" stroke="#231815" stroke-width="1.4" stroke-dasharray="5.5 2.7 0.9 3.2" stroke-dashoffset="9.1"/>
<rect x="689.5" y="666.3" width="70.2" height="63" stroke="#231815" stroke-width="1.8" fill="none"/>
<line x1="725.3" y1="666.5" x2="725.3" y2="729" stroke="#231815" stroke-width="1.4" stroke-dasharray="5.5 2.7 0.9 3.2" stroke-dashoffset="9.1"/>
<rect x="616.5" y="682.8" width="4.9" height="4.9" stroke="#231815" stroke-width="1.6" fill="none"/>
<rect x="616.5" y="707.6" width="4.9" height="4.9" stroke="#231815" stroke-width="1.6" fill="none"/>
<rect x="628.4" y="682.8" width="4.9" height="4.9" stroke="#231815" stroke-width="1.6" fill="none"/>
<rect x="628.4" y="707.6" width="4.9" height="4.9" stroke="#231815" stroke-width="1.6" fill="none"/>
<rect x="650.3" y="682.8" width="4.9" height="4.9" stroke="#231815" stroke-width="1.6" fill="none"/>
<rect x="650.3" y="707.6" width="4.9" height="4.9" stroke="#231815" stroke-width="1.6" fill="none"/>
<rect x="662.2" y="682.8" width="4.9" height="4.9" stroke="#231815" stroke-width="1.6" fill="none"/>
<rect x="662.2" y="707.6" width="4.9" height="4.9" stroke="#231815" stroke-width="1.6" fill="none"/>
<rect x="699.8" y="682.8" width="4.9" height="4.9" stroke="#231815" stroke-width="1.6" fill="none"/>
<rect x="699.8" y="707.6" width="4.9" height="4.9" stroke="#231815" stroke-width="1.6" fill="none"/>
<rect x="712" y="682.8" width="4.9" height="4.9" stroke="#231815" stroke-width="1.6" fill="none"/>
<rect x="712" y="707.6" width="4.9" height="4.9" stroke="#231815" stroke-width="1.6" fill="none"/>
<rect x="733.3" y="682.8" width="4.9" height="4.9" stroke="#231815" stroke-width="1.6" fill="none"/>
<rect x="733.3" y="707.6" width="4.9" height="4.9" stroke="#231815" stroke-width="1.6" fill="none"/>
<rect x="745.5" y="682.8" width="4.9" height="4.9" stroke="#231815" stroke-width="1.6" fill="none"/>
<rect x="745.5" y="707.6" width="4.9" height="4.9" stroke="#231815" stroke-width="1.6" fill="none"/>
<line x1="581.9" y1="480.5" x2="581.9" y2="764.5" stroke="#231815" stroke-width="1.6" stroke-dasharray="5.4 5.1"/>
<text transform="matrix(0.05398 0.00000 0.00000 0.05805 328.75 504.50)" font-family="&apos;Liberation Serif&apos;, serif" font-size="400" stroke="#231815" stroke-width="8.03" stroke-linejoin="round" fill="#231815">9</text>
<text transform="matrix(0.05398 0.00000 0.00000 0.05805 388.90 504.50)" font-family="&apos;Liberation Serif&apos;, serif" font-size="400" stroke="#231815" stroke-width="8.03" stroke-linejoin="round" fill="#231815">10</text>
<text transform="matrix(0.05398 0.00000 0.00000 0.05805 456.97 504.50)" font-family="&apos;Liberation Serif&apos;, serif" font-size="400" stroke="#231815" stroke-width="8.03" stroke-linejoin="round" fill="#231815">11</text>
<text transform="matrix(0.05398 0.00000 0.00000 0.05805 518.57 504.50)" font-family="&apos;Liberation Serif&apos;, serif" font-size="400" stroke="#231815" stroke-width="8.03" stroke-linejoin="round" fill="#231815">12</text>
<text transform="matrix(0.05398 0.00000 0.00000 0.05805 321.60 600.70)" font-family="&apos;Liberation Serif&apos;, serif" font-size="400" stroke="#231815" stroke-width="8.03" stroke-linejoin="round" fill="#231815">13</text>
<text transform="matrix(0.05398 0.00000 0.00000 0.05805 390.73 600.70)" font-family="&apos;Liberation Serif&apos;, serif" font-size="400" stroke="#231815" stroke-width="8.03" stroke-linejoin="round" fill="#231815">14</text>
<text transform="matrix(0.05398 0.00000 0.00000 0.05805 452.95 600.70)" font-family="&apos;Liberation Serif&apos;, serif" font-size="400" stroke="#231815" stroke-width="8.03" stroke-linejoin="round" fill="#231815">15</text>
<text transform="matrix(0.05398 0.00000 0.00000 0.05805 519.03 600.70)" font-family="&apos;Liberation Serif&apos;, serif" font-size="400" stroke="#231815" stroke-width="8.03" stroke-linejoin="round" fill="#231815">16</text>
<text transform="matrix(0.05398 0.00000 0.00000 0.05805 606.40 504.30)" font-family="&apos;Liberation Serif&apos;, serif" font-size="400" stroke="#231815" stroke-width="8.03" stroke-linejoin="round" fill="#231815">9</text>
<text transform="matrix(0.05398 0.00000 0.00000 0.05805 643.25 504.30)" font-family="&apos;Liberation Serif&apos;, serif" font-size="400" stroke="#231815" stroke-width="8.03" stroke-linejoin="round" fill="#231815">10</text>
<text transform="matrix(0.05398 0.00000 0.00000 0.05805 693.12 504.30)" font-family="&apos;Liberation Serif&apos;, serif" font-size="400" stroke="#231815" stroke-width="8.03" stroke-linejoin="round" fill="#231815">11</text>
<text transform="matrix(0.05398 0.00000 0.00000 0.05805 727.92 504.30)" font-family="&apos;Liberation Serif&apos;, serif" font-size="400" stroke="#231815" stroke-width="8.03" stroke-linejoin="round" fill="#231815">12</text>
<text transform="matrix(0.05398 0.00000 0.00000 0.05805 609.55 599.40)" font-family="&apos;Liberation Serif&apos;, serif" font-size="400" stroke="#231815" stroke-width="8.03" stroke-linejoin="round" fill="#231815">13</text>
<text transform="matrix(0.05398 0.00000 0.00000 0.05805 646.18 599.40)" font-family="&apos;Liberation Serif&apos;, serif" font-size="400" stroke="#231815" stroke-width="8.03" stroke-linejoin="round" fill="#231815">14</text>
<text transform="matrix(0.05398 0.00000 0.00000 0.05805 692.55 599.40)" font-family="&apos;Liberation Serif&apos;, serif" font-size="400" stroke="#231815" stroke-width="8.03" stroke-linejoin="round" fill="#231815">15</text>
<text transform="matrix(0.05398 0.00000 0.00000 0.05805 728.33 599.40)" font-family="&apos;Liberation Serif&apos;, serif" font-size="400" stroke="#231815" stroke-width="8.03" stroke-linejoin="round" fill="#231815">16</text>
<text transform="matrix(0.05398 0.00000 0.00000 0.05805 332.41 660.30)" font-family="&apos;Liberation Serif&apos;, serif" font-size="400" stroke="#231815" stroke-width="8.03" stroke-linejoin="round" fill="#231815">1</text>
<text transform="matrix(0.05398 0.00000 0.00000 0.05805 396.72 660.30)" font-family="&apos;Liberation Serif&apos;, serif" font-size="400" stroke="#231815" stroke-width="8.03" stroke-linejoin="round" fill="#231815">2</text>
<text transform="matrix(0.05398 0.00000 0.00000 0.05805 463.18 660.30)" font-family="&apos;Liberation Serif&apos;, serif" font-size="400" stroke="#231815" stroke-width="8.03" stroke-linejoin="round" fill="#231815">3</text>
<text transform="matrix(0.05398 0.00000 0.00000 0.05805 526.15 660.30)" font-family="&apos;Liberation Serif&apos;, serif" font-size="400" stroke="#231815" stroke-width="8.03" stroke-linejoin="round" fill="#231815">4</text>
<text transform="matrix(0.05398 0.00000 0.00000 0.05805 332.43 754.50)" font-family="&apos;Liberation Serif&apos;, serif" font-size="400" stroke="#231815" stroke-width="8.03" stroke-linejoin="round" fill="#231815">5</text>
<text transform="matrix(0.05398 0.00000 0.00000 0.05805 398.78 754.50)" font-family="&apos;Liberation Serif&apos;, serif" font-size="400" stroke="#231815" stroke-width="8.03" stroke-linejoin="round" fill="#231815">6</text>
<text transform="matrix(0.05398 0.00000 0.00000 0.05805 462.05 754.50)" font-family="&apos;Liberation Serif&apos;, serif" font-size="400" stroke="#231815" stroke-width="8.03" stroke-linejoin="round" fill="#231815">7</text>
<text transform="matrix(0.05398 0.00000 0.00000 0.05805 527.55 754.50)" font-family="&apos;Liberation Serif&apos;, serif" font-size="400" stroke="#231815" stroke-width="8.03" stroke-linejoin="round" fill="#231815">8</text>
<text transform="matrix(0.05398 0.00000 0.00000 0.05805 617.46 656.70)" font-family="&apos;Liberation Serif&apos;, serif" font-size="400" stroke="#231815" stroke-width="8.03" stroke-linejoin="round" fill="#231815">1</text>
<text transform="matrix(0.05398 0.00000 0.00000 0.05805 654.42 656.70)" font-family="&apos;Liberation Serif&apos;, serif" font-size="400" stroke="#231815" stroke-width="8.03" stroke-linejoin="round" fill="#231815">2</text>
<text transform="matrix(0.05398 0.00000 0.00000 0.05805 702.63 656.70)" font-family="&apos;Liberation Serif&apos;, serif" font-size="400" stroke="#231815" stroke-width="8.03" stroke-linejoin="round" fill="#231815">3</text>
<text transform="matrix(0.05398 0.00000 0.00000 0.05805 739.10 656.70)" font-family="&apos;Liberation Serif&apos;, serif" font-size="400" stroke="#231815" stroke-width="8.03" stroke-linejoin="round" fill="#231815">4</text>
<text transform="matrix(0.05398 0.00000 0.00000 0.05805 617.63 755.30)" font-family="&apos;Liberation Serif&apos;, serif" font-size="400" stroke="#231815" stroke-width="8.03" stroke-linejoin="round" fill="#231815">5</text>
<text transform="matrix(0.05398 0.00000 0.00000 0.05805 654.08 755.30)" font-family="&apos;Liberation Serif&apos;, serif" font-size="400" stroke="#231815" stroke-width="8.03" stroke-linejoin="round" fill="#231815">6</text>
<text transform="matrix(0.05398 0.00000 0.00000 0.05805 701.05 755.30)" font-family="&apos;Liberation Serif&apos;, serif" font-size="400" stroke="#231815" stroke-width="8.03" stroke-linejoin="round" fill="#231815">7</text>
<text transform="matrix(0.05398 0.00000 0.00000 0.05805 736.90 755.30)" font-family="&apos;Liberation Serif&apos;, serif" font-size="400" stroke="#231815" stroke-width="8.03" stroke-linejoin="round" fill="#231815">8</text>
<text transform="matrix(0.05120 0.00000 0.00000 0.04800 204.14 537.50)" font-family="&apos;Liberation Sans&apos;, sans-serif" font-size="400" fill="#231815">9</text>
<path d="M219.5,532C222.46,529.9 224.68,530.3 226.9,531.4S231.34,532.9 234.3,530.8" stroke="#231815" stroke-width="1.25" fill="none" />
<g transform="matrix(0.02845 0.00000 0.00000 0.04907 239.82 537.80)" fill="#231815" font-family="&apos;Liberation Sans&apos;, sans-serif" font-size="400"><path transform="translate(0.0 0)" d="M168,0V-281.25H139L52,-212V-178L131,-236V0Z"/></g>
<text transform="matrix(0.05067 0.00000 0.00000 0.04800 250.35 537.50)" font-family="&apos;Liberation Sans&apos;, sans-serif" font-size="400" fill="#231815">6</text>
<text transform="matrix(0.05000 0.00000 0.00000 0.05000 190.30 562.80)" font-family="&apos;Liberation Sans&apos;, sans-serif" font-size="400" letter-spacing="83.33" stroke="#231815" stroke-width="5.00" stroke-linejoin="round" fill="#231815">输入端子</text>
<text transform="matrix(0.05120 0.00000 0.00000 0.04974 789.14 540.49)" font-family="&apos;Liberation Sans&apos;, sans-serif" font-size="400" fill="#231815">9</text>
<path d="M804.5,534.8C807.46,532.7 809.68,533.1 811.9,534.2S816.34,535.7 819.3,533.6" stroke="#231815" stroke-width="1.25" fill="none" />
<g transform="matrix(0.02845 0.00000 0.00000 0.05084 824.82 540.80)" fill="#231815" font-family="&apos;Liberation Sans&apos;, sans-serif" font-size="400"><path transform="translate(0.0 0)" d="M168,0V-281.25H139L52,-212V-178L131,-236V0Z"/></g>
<text transform="matrix(0.05227 0.00000 0.00000 0.04974 834.72 540.49)" font-family="&apos;Liberation Sans&apos;, sans-serif" font-size="400" fill="#231815">6</text>
<text transform="matrix(0.05027 0.00000 0.00000 0.05027 775.90 564.29)" font-family="&apos;Liberation Sans&apos;, sans-serif" font-size="400" letter-spacing="80.12" stroke="#231815" stroke-width="4.97" stroke-linejoin="round" fill="#231815">输出端子</text>
<g transform="matrix(0.04569 0.00000 0.00000 0.04871 208.62 683.70)" fill="#231815" font-family="&apos;Liberation Sans&apos;, sans-serif" font-size="400"><path transform="translate(0.0 0)" d="M168,0V-281.25H139L52,-212V-178L131,-236V0Z"/></g>
<path d="M224.2,678.2C227.18,676.1 229.41,676.5 231.65,677.6S236.12,679.1 239.1,677" stroke="#231815" stroke-width="1.25" fill="none" />
<text transform="matrix(0.05006 0.00000 0.00000 0.04765 241.67 683.40)" font-family="&apos;Liberation Sans&apos;, sans-serif" font-size="400" fill="#231815">8</text>
<text transform="matrix(0.05133 0.00000 0.00000 0.05133 190.88 708.25)" font-family="&apos;Liberation Sans&apos;, sans-serif" font-size="400" letter-spacing="67.62" stroke="#231815" stroke-width="4.87" stroke-linejoin="round" fill="#231815">输入端子</text>
<g transform="matrix(0.04741 0.00000 0.00000 0.04800 803.23 694.50)" fill="#231815" font-family="&apos;Liberation Sans&apos;, sans-serif" font-size="400"><path transform="translate(0.0 0)" d="M168,0V-281.25H139L52,-212V-178L131,-236V0Z"/></g>
<path d="M818.7,688.8C821.76,686.7 824.06,687.1 826.35,688.2S830.94,689.7 834,687.6" stroke="#231815" stroke-width="1.25" fill="none" />
<text transform="matrix(0.05110 0.00000 0.00000 0.04696 836.26 694.21)" font-family="&apos;Liberation Sans&apos;, sans-serif" font-size="400" fill="#231815">8</text>
<text transform="matrix(0.05027 0.00000 0.00000 0.05027 779.50 719.29)" font-family="&apos;Liberation Sans&apos;, sans-serif" font-size="400" letter-spacing="80.12" stroke="#231815" stroke-width="4.97" stroke-linejoin="round" fill="#231815">输出端子</text>
<path d="M254.46,816.96 Q279,787 289.6,742.5 C299,755 304,780 300.5,800 L288.57,846.94 A158.0,158.0 0 1 1 254.46,816.96 Z" stroke="#3a3a3a" stroke-width="1.1" fill="#ffffff" />
<rect x="297.3" y="791.3" width="32.4" height="64" stroke="#231815" stroke-width="0" fill="#f7f7f7"/>
<path d="M297.3,791.3V854M329.7,791.3V854M297.3,791.3H329.7M297.3,822.4H329.7M297.3,831.2H329.7" stroke="#231815" stroke-width="1.5" fill="none" stroke-linecap="square"/>
<circle cx="313.5" cy="806.85" r="15.35" stroke="#231815" stroke-width="1.4" fill="none"/>
<path d="M311.23,791.67V804.58H298.32M298.32,809.12H311.23V822.03M315.77,822.03V809.12H328.68M328.68,804.58H315.77V791.67" stroke="#231815" stroke-width="1.4" fill="none" />
<text transform="matrix(0.00000 0.04151 -0.04942 0.00000 306.55 833.98)" font-family="&apos;Liberation Sans&apos;, sans-serif" font-size="400" font-weight="bold" fill="#231815">24</text>
<path d="M336.43,791.3V854M368.83,791.3V854M336.43,791.3H368.83M336.43,822.4H368.83M336.43,831.2H368.83" stroke="#231815" stroke-width="1.5" fill="none" stroke-linecap="square"/>
<circle cx="352.63" cy="806.85" r="15.35" stroke="#231815" stroke-width="1.4" fill="none"/>
<path d="M350.36,791.67V804.58H337.45M337.45,809.12H350.36V822.03M354.9,822.03V809.12H367.81M367.81,804.58H354.9V791.67" stroke="#231815" stroke-width="1.4" fill="none" />
<text transform="matrix(0.00000 0.04061 -0.04835 0.00000 345.98 833.99)" font-family="&apos;Liberation Sans&apos;, sans-serif" font-size="400" font-weight="bold" fill="#231815">23</text>
<path d="M375.56,791.3V854M407.96,791.3V854M375.56,791.3H407.96M375.56,822.4H407.96M375.56,831.2H407.96" stroke="#231815" stroke-width="1.5" fill="none" stroke-linecap="square"/>
<circle cx="391.76" cy="806.85" r="15.35" stroke="#231815" stroke-width="1.4" fill="none"/>
<path d="M389.49,791.67V804.58H376.58M376.58,809.12H389.49V822.03M394.03,822.03V809.12H406.94M406.94,804.58H394.03V791.67" stroke="#231815" stroke-width="1.4" fill="none" />
<text transform="matrix(0.00000 0.04151 -0.04942 0.00000 384.81 833.98)" font-family="&apos;Liberation Sans&apos;, sans-serif" font-size="400" font-weight="bold" fill="#231815">22</text>
<path d="M414.69,791.3V854M447.09,791.3V854M414.69,791.3H447.09M414.69,822.4H447.09M414.69,831.2H447.09" stroke="#231815" stroke-width="1.5" fill="none" stroke-linecap="square"/>
<circle cx="430.89" cy="806.85" r="15.35" stroke="#231815" stroke-width="1.4" fill="none"/>
<path d="M428.62,791.67V804.58H415.71M415.71,809.12H428.62V822.03M433.16,822.03V809.12H446.07M446.07,804.58H433.16V791.67" stroke="#231815" stroke-width="1.4" fill="none" />
<g transform="matrix(0.00000 0.04151 -0.04942 0.00000 423.94 833.98)" fill="#231815" font-family="&apos;Liberation Sans&apos;, sans-serif" font-size="400" font-weight="bold"><text x="0.0">2</text><path transform="translate(222.5 0)" d="M150,0V-281.25H108C100,-252 80,-234 52,-228V-182C74,-184 88,-190 100,-199V0Z"/></g>
<path d="M453.82,791.3V854M486.22,791.3V854M453.82,791.3H486.22M453.82,822.4H486.22M453.82,831.2H486.22" stroke="#231815" stroke-width="1.5" fill="none" stroke-linecap="square"/>
<circle cx="470.02" cy="806.85" r="15.35" stroke="#231815" stroke-width="1.4" fill="none"/>
<path d="M467.75,791.67V804.58H454.84M454.84,809.12H467.75V822.03M472.29,822.03V809.12H485.2M485.2,804.58H472.29V791.67" stroke="#231815" stroke-width="1.4" fill="none" />
<text transform="matrix(0.00000 0.04061 -0.04835 0.00000 463.37 833.99)" font-family="&apos;Liberation Sans&apos;, sans-serif" font-size="400" font-weight="bold" fill="#231815">20</text>
<path d="M492.95,791.3V854M525.35,791.3V854M492.95,791.3H525.35M492.95,822.4H525.35M492.95,831.2H525.35" stroke="#231815" stroke-width="1.5" fill="none" stroke-linecap="square"/>
<circle cx="509.15" cy="806.85" r="15.35" stroke="#231815" stroke-width="1.4" fill="none"/>
<path d="M506.88,791.67V804.58H493.97M493.97,809.12H506.88V822.03M511.42,822.03V809.12H524.33M524.33,804.58H511.42V791.67" stroke="#231815" stroke-width="1.4" fill="none" />
<g transform="matrix(0.00000 0.04061 -0.04835 0.00000 502.50 832.39)" fill="#231815" font-family="&apos;Liberation Sans&apos;, sans-serif" font-size="400" font-weight="bold"><path transform="translate(0.0 0)" d="M150,0V-281.25H108C100,-252 80,-234 52,-228V-182C74,-184 88,-190 100,-199V0Z"/><text x="196.0">9</text></g>
<path d="M532.08,791.3V854M564.48,791.3V854M532.08,791.3H564.48M532.08,822.4H564.48M532.08,831.2H564.48" stroke="#231815" stroke-width="1.5" fill="none" stroke-linecap="square"/>
<circle cx="548.28" cy="806.85" r="15.35" stroke="#231815" stroke-width="1.4" fill="none"/>
<path d="M546.01,791.67V804.58H533.1M533.1,809.12H546.01V822.03M550.55,822.03V809.12H563.46M563.46,804.58H550.55V791.67" stroke="#231815" stroke-width="1.4" fill="none" />
<g transform="matrix(0.00000 0.04061 -0.04835 0.00000 541.63 832.39)" fill="#231815" font-family="&apos;Liberation Sans&apos;, sans-serif" font-size="400" font-weight="bold"><path transform="translate(0.0 0)" d="M150,0V-281.25H108C100,-252 80,-234 52,-228V-182C74,-184 88,-190 100,-199V0Z"/><text x="196.0">8</text></g>
<path d="M571.21,791.3V854M603.61,791.3V854M571.21,791.3H603.61M571.21,822.4H603.61M571.21,831.2H603.61" stroke="#231815" stroke-width="1.5" fill="none" stroke-linecap="square"/>
<circle cx="587.41" cy="806.85" r="15.35" stroke="#231815" stroke-width="1.4" fill="none"/>
<path d="M585.14,791.67V804.58H572.23M572.23,809.12H585.14V822.03M589.68,822.03V809.12H602.59M602.59,804.58H589.68V791.67" stroke="#231815" stroke-width="1.4" fill="none" />
<g transform="matrix(0.00000 0.04151 -0.04942 0.00000 580.46 832.34)" fill="#231815" font-family="&apos;Liberation Sans&apos;, sans-serif" font-size="400" font-weight="bold"><path transform="translate(0.0 0)" d="M150,0V-281.25H108C100,-252 80,-234 52,-228V-182C74,-184 88,-190 100,-199V0Z"/><text x="196.0">7</text></g>
<path d="M610.34,791.3V854M642.74,791.3V854M610.34,791.3H642.74M610.34,822.4H642.74M610.34,831.2H642.74" stroke="#231815" stroke-width="1.5" fill="none" stroke-linecap="square"/>
<circle cx="626.54" cy="806.85" r="15.35" stroke="#231815" stroke-width="1.4" fill="none"/>
<path d="M624.27,791.67V804.58H611.36M611.36,809.12H624.27V822.03M628.81,822.03V809.12H641.72M641.72,804.58H628.81V791.67" stroke="#231815" stroke-width="1.4" fill="none" />
<g transform="matrix(0.00000 0.04061 -0.04835 0.00000 619.89 832.39)" fill="#231815" font-family="&apos;Liberation Sans&apos;, sans-serif" font-size="400" font-weight="bold"><path transform="translate(0.0 0)" d="M150,0V-281.25H108C100,-252 80,-234 52,-228V-182C74,-184 88,-190 100,-199V0Z"/><text x="196.0">6</text></g>
<path d="M649.47,791.3V854M681.87,791.3V854M649.47,791.3H681.87M649.47,822.4H681.87M649.47,831.2H681.87" stroke="#231815" stroke-width="1.5" fill="none" stroke-linecap="square"/>
<circle cx="665.67" cy="806.85" r="15.35" stroke="#231815" stroke-width="1.4" fill="none"/>
<path d="M663.4,791.67V804.58H650.49M650.49,809.12H663.4V822.03M667.94,822.03V809.12H680.85M680.85,804.58H667.94V791.67" stroke="#231815" stroke-width="1.4" fill="none" />
<g transform="matrix(0.00000 0.04061 -0.04835 0.00000 659.02 832.39)" fill="#231815" font-family="&apos;Liberation Sans&apos;, sans-serif" font-size="400" font-weight="bold"><path transform="translate(0.0 0)" d="M150,0V-281.25H108C100,-252 80,-234 52,-228V-182C74,-184 88,-190 100,-199V0Z"/><text x="196.0">5</text></g>
<path d="M688.6,791.3V854M721,791.3V854M688.6,791.3H721M688.6,822.4H721M688.6,831.2H721" stroke="#231815" stroke-width="1.5" fill="none" stroke-linecap="square"/>
<circle cx="704.8" cy="806.85" r="15.35" stroke="#231815" stroke-width="1.4" fill="none"/>
<path d="M702.53,791.67V804.58H689.62M689.62,809.12H702.53V822.03M707.07,822.03V809.12H719.98M719.98,804.58H707.07V791.67" stroke="#231815" stroke-width="1.4" fill="none" />
<g transform="matrix(0.00000 0.04151 -0.04942 0.00000 697.85 832.34)" fill="#231815" font-family="&apos;Liberation Sans&apos;, sans-serif" font-size="400" font-weight="bold"><path transform="translate(0.0 0)" d="M150,0V-281.25H108C100,-252 80,-234 52,-228V-182C74,-184 88,-190 100,-199V0Z"/><text x="196.0">4</text></g>
<path d="M727.73,791.3V854M760.13,791.3V854M727.73,791.3H760.13M727.73,822.4H760.13M727.73,831.2H760.13" stroke="#231815" stroke-width="1.5" fill="none" stroke-linecap="square"/>
<circle cx="743.93" cy="806.85" r="15.35" stroke="#231815" stroke-width="1.4" fill="none"/>
<path d="M741.66,791.67V804.58H728.75M728.75,809.12H741.66V822.03M746.2,822.03V809.12H759.11M759.11,804.58H746.2V791.67" stroke="#231815" stroke-width="1.4" fill="none" />
<g transform="matrix(0.00000 0.04061 -0.04835 0.00000 737.28 832.39)" fill="#231815" font-family="&apos;Liberation Sans&apos;, sans-serif" font-size="400" font-weight="bold"><path transform="translate(0.0 0)" d="M150,0V-281.25H108C100,-252 80,-234 52,-228V-182C74,-184 88,-190 100,-199V0Z"/><text x="196.0">3</text></g>
<line x1="296.5" y1="855.3" x2="977.3" y2="855.3" stroke="#231815" stroke-width="2.8"/>
<text transform="matrix(0.03452 0.00000 0.00000 0.03378 127.99 813.01)" font-family="&apos;Liberation Serif&apos;, serif" font-size="400" font-weight="bold" fill="#231815">通</text>
<text transform="matrix(0.03452 0.00000 0.00000 0.03511 127.99 1098.16)" font-family="&apos;Liberation Serif&apos;, serif" font-size="400" font-weight="bold" fill="#231815">通</text>
<text transform="matrix(0.03350 0.00000 0.00000 0.03273 143.90 813.26)" font-family="&apos;Liberation Serif&apos;, serif" font-size="400" font-weight="bold" fill="#231815">道</text>
<text transform="matrix(0.03350 0.00000 0.00000 0.03402 143.90 1098.41)" font-family="&apos;Liberation Serif&apos;, serif" font-size="400" font-weight="bold" fill="#231815">道</text>
<text transform="matrix(0.03292 0.00000 0.00000 0.03223 159.30 813.08)" font-family="&apos;Liberation Serif&apos;, serif" font-size="400" font-weight="bold" fill="#231815">输</text>
<text transform="matrix(0.03292 0.00000 0.00000 0.03350 159.30 1098.23)" font-family="&apos;Liberation Serif&apos;, serif" font-size="400" font-weight="bold" fill="#231815">输</text>
<text transform="matrix(0.03375 0.00000 0.00000 0.03325 175.50 813.04)" font-family="&apos;Liberation Serif&apos;, serif" font-size="400" font-weight="bold" fill="#231815">入</text>
<text transform="matrix(0.03375 0.00000 0.00000 0.03455 175.50 1098.18)" font-family="&apos;Liberation Serif&apos;, serif" font-size="400" font-weight="bold" fill="#231815">入</text>
<text transform="matrix(0.03200 0.00000 0.00000 0.03944 191.90 814.20)" font-family="&apos;Liberation Serif&apos;, serif" font-size="400" font-weight="bold" fill="#231815">1</text>
<text transform="matrix(0.03543 0.00000 0.00000 0.03795 191.36 1098.26)" font-family="&apos;Liberation Serif&apos;, serif" font-size="400" font-weight="bold" fill="#231815">5</text>
<rect x="83.75" y="830.25" width="166.6" height="114.8" stroke="#231815" stroke-width="2.5" fill="none"/>
<rect x="83.75" y="957.05" width="166.6" height="113.9" stroke="#231815" stroke-width="2.5" fill="none"/>
<rect x="90.2" y="906.1" width="17.2" height="24.7" stroke="#231815" stroke-width="1.6" fill="none"/>
<rect x="90.2" y="973" width="17.2" height="24.6" stroke="#231815" stroke-width="1.6" fill="none"/>
<text transform="matrix(0.03218 0.00000 0.00000 0.05191 94.48 924.40)" font-family="&apos;Liberation Sans&apos;, sans-serif" font-size="400" stroke="#231815" stroke-width="7.13" stroke-linejoin="round" fill="#231815">A</text>
<text transform="matrix(0.03218 0.00000 0.00000 0.05191 94.48 991.40)" font-family="&apos;Liberation Sans&apos;, sans-serif" font-size="400" stroke="#231815" stroke-width="7.13" stroke-linejoin="round" fill="#231815">A</text>
<rect x="124.5" y="906.1" width="17.2" height="24.7" stroke="#231815" stroke-width="1.6" fill="none"/>
<rect x="124.5" y="973" width="17.2" height="24.6" stroke="#231815" stroke-width="1.6" fill="none"/>
<text transform="matrix(0.03218 0.00000 0.00000 0.05191 128.57 924.40)" font-family="&apos;Liberation Sans&apos;, sans-serif" font-size="400" stroke="#231815" stroke-width="7.13" stroke-linejoin="round" fill="#231815">B</text>
<text transform="matrix(0.03218 0.00000 0.00000 0.05191 128.57 991.40)" font-family="&apos;Liberation Sans&apos;, sans-serif" font-size="400" stroke="#231815" stroke-width="7.13" stroke-linejoin="round" fill="#231815">B</text>
<rect x="158.9" y="906.1" width="17.2" height="24.7" stroke="#231815" stroke-width="1.6" fill="none"/>
<rect x="158.9" y="973" width="17.2" height="24.6" stroke="#231815" stroke-width="1.6" fill="none"/>
<text transform="matrix(0.03149 0.00000 0.00000 0.05078 162.88 924.08)" font-family="&apos;Liberation Sans&apos;, sans-serif" font-size="400" stroke="#231815" stroke-width="7.29" stroke-linejoin="round" fill="#231815">C</text>
<text transform="matrix(0.03149 0.00000 0.00000 0.05078 162.88 991.08)" font-family="&apos;Liberation Sans&apos;, sans-serif" font-size="400" stroke="#231815" stroke-width="7.29" stroke-linejoin="round" fill="#231815">C</text>
<rect x="193.3" y="906.1" width="17.2" height="24.7" stroke="#231815" stroke-width="1.6" fill="none"/>
<rect x="193.3" y="973" width="17.2" height="24.6" stroke="#231815" stroke-width="1.6" fill="none"/>
<text transform="matrix(0.03218 0.00000 0.00000 0.05191 196.97 924.40)" font-family="&apos;Liberation Sans&apos;, sans-serif" font-size="400" stroke="#231815" stroke-width="7.13" stroke-linejoin="round" fill="#231815">D</text>
<text transform="matrix(0.03218 0.00000 0.00000 0.05191 196.97 991.40)" font-family="&apos;Liberation Sans&apos;, sans-serif" font-size="400" stroke="#231815" stroke-width="7.13" stroke-linejoin="round" fill="#231815">D</text>
<rect x="227.6" y="906.1" width="17.2" height="24.7" stroke="#231815" stroke-width="1.6" fill="none"/>
<rect x="227.6" y="973" width="17.2" height="24.6" stroke="#231815" stroke-width="1.6" fill="none"/>
<text transform="matrix(0.03218 0.00000 0.00000 0.05191 231.67 924.40)" font-family="&apos;Liberation Sans&apos;, sans-serif" font-size="400" stroke="#231815" stroke-width="7.13" stroke-linejoin="round" fill="#231815">E</text>
<text transform="matrix(0.03218 0.00000 0.00000 0.05191 231.67 991.40)" font-family="&apos;Liberation Sans&apos;, sans-serif" font-size="400" stroke="#231815" stroke-width="7.13" stroke-linejoin="round" fill="#231815">E</text>
<path d="M99.1,905.3V865.9H107" stroke="#231815" stroke-width="1.5" fill="none" />
<rect x="107.1" y="864.1" width="18.6" height="4.7" stroke="#231815" stroke-width="1.5" fill="none"/>
<path d="M126,865.9H167.5" stroke="#231815" stroke-width="1.5" fill="none" />
<path d="M132.9,865.9V905.3" stroke="#231815" stroke-width="1.5" fill="none" />
<path d="M167.5,905.3V848.3H188.8M216.1,848.3H234.4V905.3" stroke="#231815" stroke-width="1.5" fill="none" />
<path d="M167.5,860.7H177.8M194,860.7H201.7V905.3" stroke="#231815" stroke-width="1.5" fill="none" />
<path d="M133.6,893.6L149.4,883.8L167.3,895.5" stroke="#231815" stroke-width="1.5" fill="none" />
<circle cx="149.4" cy="884" r="2.3" fill="#231815"/>
<path d="M135.6,899.6H142.3M138.95,896V903.2" stroke="#231815" stroke-width="1.2" fill="none" />
<path d="M170.4,899.5H177.8" stroke="#231815" stroke-width="1.2" fill="none" />
<path d="M193.1,899.45H199.8M196.45,895.8V903.1" stroke="#231815" stroke-width="1.2" fill="none" />
<path d="M227.2,899.45H233.9M230.55,895.8V903.1" stroke="#231815" stroke-width="1.2" fill="none" />
<text transform="matrix(0.03237 0.00000 0.00000 0.03721 110.30 885.67)" font-family="&apos;Liberation Serif&apos;, serif" font-size="400" font-weight="bold" stroke="#231815" stroke-width="7.19" stroke-linejoin="round" fill="#231815">Rt</text>
<text transform="matrix(0.02373 0.00000 0.00000 0.02982 135.35 879.21)" font-family="&apos;Liberation Serif&apos;, serif" font-size="400" font-weight="bold" stroke="#231815" stroke-width="9.34" stroke-linejoin="round" fill="#231815">TC/mV</text>
<text transform="matrix(0.02344 0.00000 0.00000 0.03684 197.25 852.30)" font-family="&apos;Liberation Serif&apos;, serif" font-size="400" font-weight="bold" stroke="#231815" stroke-width="8.30" stroke-linejoin="round" fill="#231815">mA</text>
<text transform="matrix(0.02365 0.00000 0.00000 0.03758 182.00 866.47)" font-family="&apos;Liberation Serif&apos;, serif" font-size="400" font-weight="bold" stroke="#231815" stroke-width="8.17" stroke-linejoin="round" fill="#231815">V</text>
<path d="M99.5,998.4V1037.8H107" stroke="#231815" stroke-width="1.5" fill="none" />
<rect x="106.9" y="1034.9" width="19.2" height="5.3" stroke="#231815" stroke-width="1.5" fill="none"/>
<path d="M126.2,1037.8H167" stroke="#231815" stroke-width="1.5" fill="none" />
<path d="M132.5,998.4V1037.8" stroke="#231815" stroke-width="1.5" fill="none" />
<path d="M133.5,1009.6L148.9,1019.1L167,1008.3" stroke="#231815" stroke-width="1.5" fill="none" />
<circle cx="148.9" cy="1019" r="2.3" fill="#231815"/>
<path d="M167,998.4V1057H189.8M217,1057H235.8V998.4" stroke="#231815" stroke-width="1.5" fill="none" />
<path d="M167,1042.7H177.6M193.5,1042.7H202.2V998.4" stroke="#231815" stroke-width="1.5" fill="none" />
<path d="M136.2,1004.7H142.5M139.35,1001.6V1007.8" stroke="#231815" stroke-width="1.2" fill="none" />
<path d="M170.7,1004.2H178" stroke="#231815" stroke-width="1.2" fill="none" />
<path d="M193.5,1004.7H199.8M196.65,1001.6V1007.8" stroke="#231815" stroke-width="1.2" fill="none" />
<path d="M228,1004.7H234M231,1001.6V1007.8" stroke="#231815" stroke-width="1.2" fill="none" />
<text transform="matrix(0.03332 0.00000 0.00000 0.03423 110.19 1030.79)" font-family="&apos;Liberation Serif&apos;, serif" font-size="400" font-weight="bold" stroke="#231815" stroke-width="7.40" stroke-linejoin="round" fill="#231815">Rt</text>
<text transform="matrix(0.02474 0.00000 0.00000 0.02982 135.15 1032.51)" font-family="&apos;Liberation Serif&apos;, serif" font-size="400" font-weight="bold" stroke="#231815" stroke-width="9.16" stroke-linejoin="round" fill="#231815">TC/mV</text>
<text transform="matrix(0.02425 0.00000 0.00000 0.02977 195.65 1061.30)" font-family="&apos;Liberation Serif&apos;, serif" font-size="400" font-weight="bold" stroke="#231815" stroke-width="9.26" stroke-linejoin="round" fill="#231815">mA</text>
<text transform="matrix(0.02435 0.00000 0.00000 0.03535 182.00 1047.98)" font-family="&apos;Liberation Serif&apos;, serif" font-size="400" font-weight="bold" stroke="#231815" stroke-width="8.38" stroke-linejoin="round" fill="#231815">V</text>
<rect x="428.6" y="879.6" width="548.4" height="246.7" stroke="#231815" stroke-width="3" fill="none"/>
<line x1="430" y1="915" x2="975.5" y2="915" stroke="#231815" stroke-width="1.8"/>
<line x1="430" y1="952.4" x2="975.5" y2="952.4" stroke="#231815" stroke-width="1.8"/>
<line x1="602.8" y1="915" x2="602.8" y2="1125" stroke="#231815" stroke-width="1.8"/>
<line x1="791.6" y1="915" x2="791.6" y2="1125" stroke="#231815" stroke-width="1.8"/>
<text transform="matrix(0.06675 0.00000 0.00000 0.06807 651.40 906.22)" font-family="&apos;Liberation Sans&apos;, sans-serif" font-size="400" stroke="#231815" stroke-width="4.45" stroke-linejoin="round" fill="#231815">通</text>
<text transform="matrix(0.06569 0.00000 0.00000 0.06463 710.71 905.56)" font-family="&apos;Liberation Sans&apos;, sans-serif" font-size="400" stroke="#231815" stroke-width="4.60" stroke-linejoin="round" fill="#231815">讯</text>
<g transform="matrix(0.04370 0.00000 0.00000 0.04907 498.23 938.50)" fill="#231815" font-family="&apos;Liberation Sans&apos;, sans-serif" font-size="400" stroke="#231815" stroke-width="7.55" stroke-linejoin="round"><text x="0.0">D</text><path transform="translate(288.9 0)" d="M168,0V-281.25H139L52,-212V-178L131,-236V0Z"/></g>
<text transform="matrix(0.04398 0.00000 0.00000 0.04516 686.13 938.10)" font-family="&apos;Liberation Sans&apos;, sans-serif" font-size="400" stroke="#231815" stroke-width="7.85" stroke-linejoin="round" fill="#231815">D2</text>
<text transform="matrix(0.04268 0.00000 0.00000 0.04417 869.77 937.82)" font-family="&apos;Liberation Sans&apos;, sans-serif" font-size="400" stroke="#231815" stroke-width="8.06" stroke-linejoin="round" fill="#231815">D3</text>
<path d="M500.25,990.6H576.8M500.25,1026.4H576.8M528.7,990.6V1026.4M539,990.6V1026.4M576.8,990.6V1026.4" stroke="#231815" stroke-width="1.5" fill="none" stroke-linecap="square"/>
<circle cx="557.9" cy="1008.5" r="17.7" stroke="#231815" stroke-width="1.4" fill="none"/>
<path d="M555.35,990.98V1005.95H540.38M540.38,1011.05H555.35V1026.02M560.45,1026.02V1011.05H575.42M575.42,1005.95H560.45V990.98" stroke="#231815" stroke-width="1.4" fill="none" />
<path d="M500.25,1034.1H576.8M500.25,1070.1H576.8M528.7,1034.1V1070.1M539,1034.1V1070.1M576.8,1034.1V1070.1" stroke="#231815" stroke-width="1.5" fill="none" stroke-linecap="square"/>
<circle cx="557.9" cy="1052.1" r="17.8" stroke="#231815" stroke-width="1.4" fill="none"/>
<path d="M555.35,1034.48V1049.55H540.28M540.28,1054.65H555.35V1069.72M560.45,1069.72V1054.65H575.52M575.52,1049.55H560.45V1034.48" stroke="#231815" stroke-width="1.4" fill="none" />
<g transform="matrix(0.05526 0.00000 0.00000 0.05078 501.83 1015.78)" fill="#231815" font-family="&apos;Liberation Sans&apos;, sans-serif" font-size="400" font-weight="bold"><path transform="translate(0.0 0)" d="M150,0V-281.25H108C100,-252 80,-234 52,-228V-182C74,-184 88,-190 100,-199V0Z"/><text x="196.0">3</text></g>
<g transform="matrix(0.05583 0.00000 0.00000 0.05191 501.80 1060.70)" fill="#231815" font-family="&apos;Liberation Sans&apos;, sans-serif" font-size="400" font-weight="bold"><path transform="translate(0.0 0)" d="M150,0V-281.25H108C100,-252 80,-234 52,-228V-182C74,-184 88,-190 100,-199V0Z"/><text x="196.0">4</text></g>
<line x1="468.6" y1="1009.5" x2="498.7" y2="1009.5" stroke="#231815" stroke-width="1.5"/>
<path d="M462.6,1009.5L471.2,1005.6L471.2,1013.4Z" stroke="#231815" stroke-width="0" fill="#231815" />
<line x1="468.6" y1="1053.8" x2="498.7" y2="1053.8" stroke="#231815" stroke-width="1.5"/>
<path d="M462.6,1053.8L471.2,1049.9L471.2,1057.7Z" stroke="#231815" stroke-width="0" fill="#231815" />
<text transform="matrix(0.03498 0.00000 0.00000 0.04551 448.20 1013.30)" font-family="&apos;Liberation Sans&apos;, sans-serif" font-size="400" stroke="#231815" stroke-width="8.70" stroke-linejoin="round" fill="#231815">A</text>
<text transform="matrix(0.03886 0.00000 0.00000 0.04373 447.89 1059.10)" font-family="&apos;Liberation Sans&apos;, sans-serif" font-size="400" stroke="#231815" stroke-width="8.48" stroke-linejoin="round" fill="#231815">B</text>
<text transform="matrix(0.04432 0.00000 0.00000 0.04348 496.12 1093.73)" font-family="&apos;Liberation Sans&apos;, sans-serif" font-size="400" stroke="#231815" stroke-width="6.83" stroke-linejoin="round" fill="#231815">RS485</text>
<path d="M698.15,960.9H774.1M698.15,997.1H774.1M726.3,960.9V997.1M737,960.9V997.1M774.1,960.9V997.1" stroke="#231815" stroke-width="1.5" fill="none" stroke-linecap="square"/>
<circle cx="755.55" cy="979" r="17.9" stroke="#231815" stroke-width="1.4" fill="none"/>
<path d="M753.05,961.28V976.5H737.83M737.83,981.5H753.05V996.72M758.05,996.72V981.5H773.27M773.27,976.5H758.05V961.28" stroke="#231815" stroke-width="1.4" fill="none" />
<path d="M698.15,1004.3H774.1M698.15,1040.3H774.1M726.3,1004.3V1040.3M737,1004.3V1040.3M774.1,1004.3V1040.3" stroke="#231815" stroke-width="1.5" fill="none" stroke-linecap="square"/>
<circle cx="755.55" cy="1022.3" r="17.8" stroke="#231815" stroke-width="1.4" fill="none"/>
<path d="M753.05,1004.68V1019.8H737.93M737.93,1024.8H753.05V1039.92M758.05,1039.92V1024.8H773.17M773.17,1019.8H758.05V1004.68" stroke="#231815" stroke-width="1.4" fill="none" />
<path d="M698.15,1046.8H774.1M698.15,1082.7H774.1M726.3,1046.8V1082.7M737,1046.8V1082.7M774.1,1046.8V1082.7" stroke="#231815" stroke-width="1.5" fill="none" stroke-linecap="square"/>
<circle cx="755.55" cy="1064.75" r="17.75" stroke="#231815" stroke-width="1.4" fill="none"/>
<path d="M753.05,1047.18V1062.25H737.98M737.98,1067.25H753.05V1082.32M758.05,1082.32V1067.25H773.12M773.12,1062.25H758.05V1047.18" stroke="#231815" stroke-width="1.4" fill="none" />
<g transform="matrix(0.05666 0.00000 0.00000 0.05043 698.05 984.38)" fill="#231815" font-family="&apos;Liberation Sans&apos;, sans-serif" font-size="400" font-weight="bold"><path transform="translate(0.0 0)" d="M150,0V-281.25H108C100,-252 80,-234 52,-228V-182C74,-184 88,-190 100,-199V0Z"/><text x="196.0">3</text></g>
<g transform="matrix(0.05556 0.00000 0.00000 0.05262 698.11 1030.80)" fill="#231815" font-family="&apos;Liberation Sans&apos;, sans-serif" font-size="400" font-weight="bold"><path transform="translate(0.0 0)" d="M150,0V-281.25H108C100,-252 80,-234 52,-228V-182C74,-184 88,-190 100,-199V0Z"/><text x="196.0">4</text></g>
<g transform="matrix(0.05666 0.00000 0.00000 0.04904 698.05 1072.29)" fill="#231815" font-family="&apos;Liberation Sans&apos;, sans-serif" font-size="400" font-weight="bold"><path transform="translate(0.0 0)" d="M150,0V-281.25H108C100,-252 80,-234 52,-228V-182C74,-184 88,-190 100,-199V0Z"/><text x="196.0">5</text></g>
<line x1="664.6" y1="975.7" x2="694" y2="975.7" stroke="#231815" stroke-width="1.5"/>
<path d="M658.6,975.7L667.2,971.8L667.2,979.6Z" stroke="#231815" stroke-width="0" fill="#231815" />
<line x1="664.6" y1="1020.1" x2="694" y2="1020.1" stroke="#231815" stroke-width="1.5"/>
<path d="M658.6,1020.1L667.2,1016.2L667.2,1024Z" stroke="#231815" stroke-width="0" fill="#231815" />
<line x1="666.6" y1="1065.2" x2="696" y2="1065.2" stroke="#231815" stroke-width="1.5"/>
<path d="M660.6,1065.2L669.2,1061.3L669.2,1069.1Z" stroke="#231815" stroke-width="0" fill="#231815" />
<text transform="matrix(0.03834 0.00000 0.00000 0.04658 623.76 982.90)" font-family="&apos;Liberation Sans&apos;, sans-serif" font-size="400" stroke="#231815" stroke-width="8.24" stroke-linejoin="round" fill="#231815">TXD</text>
<text transform="matrix(0.03878 0.00000 0.00000 0.04480 621.69 1025.40)" font-family="&apos;Liberation Sans&apos;, sans-serif" font-size="400" stroke="#231815" stroke-width="8.38" stroke-linejoin="round" fill="#231815">RXD</text>
<text transform="matrix(0.03655 0.00000 0.00000 0.04557 622.81 1072.12)" font-family="&apos;Liberation Sans&apos;, sans-serif" font-size="400" stroke="#231815" stroke-width="8.52" stroke-linejoin="round" fill="#231815">GND</text>
<text transform="matrix(0.04432 0.00000 0.00000 0.04417 666.52 1101.42)" font-family="&apos;Liberation Sans&apos;, sans-serif" font-size="400" stroke="#231815" stroke-width="6.78" stroke-linejoin="round" fill="#231815">RS232</text>
<path d="M883.75,960.9H959.7M883.75,997.1H959.7M912.3,960.9V997.1M922.4,960.9V997.1M959.7,960.9V997.1" stroke="#231815" stroke-width="1.5" fill="none" stroke-linecap="square"/>
<circle cx="941.05" cy="979" r="17.9" stroke="#231815" stroke-width="1.4" fill="none"/>
<path d="M938.53,961.28V976.48H923.33M923.33,981.52H938.53V996.72M943.57,996.72V981.52H958.77M958.77,976.48H943.57V961.28" stroke="#231815" stroke-width="1.4" fill="none" />
<path d="M883.75,1004.3H959.7M883.75,1040.3H959.7M912.3,1004.3V1040.3M922.4,1004.3V1040.3M959.7,1004.3V1040.3" stroke="#231815" stroke-width="1.5" fill="none" stroke-linecap="square"/>
<circle cx="941.05" cy="1022.3" r="17.8" stroke="#231815" stroke-width="1.4" fill="none"/>
<path d="M938.53,1004.68V1019.78H923.43M923.43,1024.82H938.53V1039.92M943.57,1039.92V1024.82H958.67M958.67,1019.78H943.57V1004.68" stroke="#231815" stroke-width="1.4" fill="none" />
<path d="M883.75,1046.8H959.7M883.75,1082.7H959.7M912.3,1046.8V1082.7M922.4,1046.8V1082.7M959.7,1046.8V1082.7" stroke="#231815" stroke-width="1.5" fill="none" stroke-linecap="square"/>
<circle cx="941.05" cy="1064.75" r="17.75" stroke="#231815" stroke-width="1.4" fill="none"/>
<path d="M938.53,1047.18V1062.23H923.48M923.48,1067.27H938.53V1082.32M943.57,1082.32V1067.27H958.62M958.62,1062.23H943.57V1047.18" stroke="#231815" stroke-width="1.4" fill="none" />
<g transform="matrix(0.05666 0.00000 0.00000 0.05043 883.45 984.38)" fill="#231815" font-family="&apos;Liberation Sans&apos;, sans-serif" font-size="400" font-weight="bold"><path transform="translate(0.0 0)" d="M150,0V-281.25H108C100,-252 80,-234 52,-228V-182C74,-184 88,-190 100,-199V0Z"/><text x="196.0">3</text></g>
<g transform="matrix(0.05556 0.00000 0.00000 0.05262 883.51 1030.80)" fill="#231815" font-family="&apos;Liberation Sans&apos;, sans-serif" font-size="400" font-weight="bold"><path transform="translate(0.0 0)" d="M150,0V-281.25H108C100,-252 80,-234 52,-228V-182C74,-184 88,-190 100,-199V0Z"/><text x="196.0">4</text></g>
<g transform="matrix(0.05666 0.00000 0.00000 0.04904 883.45 1072.29)" fill="#231815" font-family="&apos;Liberation Sans&apos;, sans-serif" font-size="400" font-weight="bold"><path transform="translate(0.0 0)" d="M150,0V-281.25H108C100,-252 80,-234 52,-228V-182C74,-184 88,-190 100,-199V0Z"/><text x="196.0">5</text></g>
<line x1="849.6" y1="975.7" x2="879.5" y2="975.7" stroke="#231815" stroke-width="1.5"/>
<path d="M843.6,975.7L852.2,971.8L852.2,979.6Z" stroke="#231815" stroke-width="0" fill="#231815" />
<line x1="849.6" y1="1020.1" x2="879.5" y2="1020.1" stroke="#231815" stroke-width="1.5"/>
<path d="M843.6,1020.1L852.2,1016.2L852.2,1024Z" stroke="#231815" stroke-width="0" fill="#231815" />
<line x1="851.6" y1="1065.2" x2="881.5" y2="1065.2" stroke="#231815" stroke-width="1.5"/>
<path d="M845.6,1065.2L854.2,1061.3L854.2,1069.1Z" stroke="#231815" stroke-width="0" fill="#231815" />
<text transform="matrix(0.03834 0.00000 0.00000 0.04658 811.26 982.90)" font-family="&apos;Liberation Sans&apos;, sans-serif" font-size="400" stroke="#231815" stroke-width="8.24" stroke-linejoin="round" fill="#231815">TXD</text>
<text transform="matrix(0.03878 0.00000 0.00000 0.04480 809.19 1025.40)" font-family="&apos;Liberation Sans&apos;, sans-serif" font-size="400" stroke="#231815" stroke-width="8.38" stroke-linejoin="round" fill="#231815">RXD</text>
<text transform="matrix(0.03655 0.00000 0.00000 0.04557 810.31 1072.12)" font-family="&apos;Liberation Sans&apos;, sans-serif" font-size="400" stroke="#231815" stroke-width="8.52" stroke-linejoin="round" fill="#231815">GND</text>
<text transform="matrix(0.04377 0.00000 0.00000 0.04557 851.53 1101.82)" font-family="&apos;Liberation Sans&apos;, sans-serif" font-size="400" stroke="#231815" stroke-width="6.72" stroke-linejoin="round" fill="#231815">RS232C</text>
</svg></body></html>
